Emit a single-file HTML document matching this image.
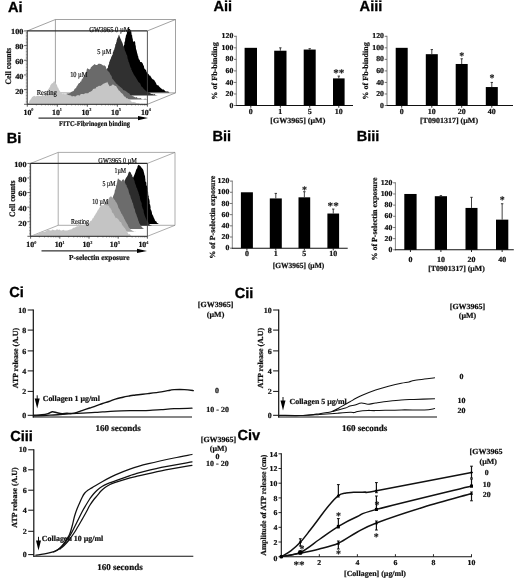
<!DOCTYPE html>
<html lang="en"><head><meta charset="utf-8"><title>Figure</title>
<style>
html,body{margin:0;padding:0;background:#fff;}
body{width:520px;height:585px;overflow:hidden;}
svg{display:block;}
text{white-space:pre;text-rendering:geometricPrecision;font-family:"Liberation Serif","DejaVu Serif",serif;font-weight:bold;text-anchor:middle;fill:#111;stroke:#111;stroke-width:0.22px;}
text.n{font-weight:normal;stroke-width:0.2px;}
text.st{stroke-width:0.15px;}
text.s{text-anchor:start;}
text.e{text-anchor:end;}
text.pl{font-family:"Liberation Sans","DejaVu Sans",sans-serif;font-size:14.6px;fill:#000;stroke:#000;stroke-width:0.3px;}
</style></head><body>
<svg width="520" height="585" viewBox="0 0 520 585">
<rect width="520" height="585" fill="#fff"/>
<text class="pl s" x="8.00" y="11.80">Ai</text>
<text class="pl s" x="213.50" y="11.20">Aii</text>
<text class="pl s" x="359.60" y="11.20">Aiii</text>
<text class="pl s" x="6.70" y="143.30">Bi</text>
<text class="pl s" x="212.50" y="140.60">Bii</text>
<text class="pl s" x="356.70" y="140.60">Biii</text>
<text class="pl s" x="9.20" y="296.80">Ci</text>
<text class="pl s" x="234.70" y="298.20">Cii</text>
<text class="pl s" x="10.20" y="440.60">Ciii</text>
<text class="pl s" x="237.40" y="439.80">Civ</text>
<line x1="236.30" y1="35.80" x2="236.30" y2="106.00" stroke="#777" stroke-width="0.9" stroke-linecap="butt"/>
<line x1="235.80" y1="105.50" x2="353.00" y2="105.50" stroke="#111" stroke-width="1.1" stroke-linecap="butt"/>
<line x1="234.00" y1="105.50" x2="236.30" y2="105.50" stroke="#555" stroke-width="0.8" stroke-linecap="butt"/>
<text class="e" x="233.30" y="107.60" style="font-size:7.57px" textLength="3.90" lengthAdjust="spacingAndGlyphs">0</text>
<line x1="234.00" y1="93.97" x2="236.30" y2="93.97" stroke="#555" stroke-width="0.8" stroke-linecap="butt"/>
<text class="e" x="233.30" y="96.07" style="font-size:7.57px" textLength="7.80" lengthAdjust="spacingAndGlyphs">20</text>
<line x1="234.00" y1="82.43" x2="236.30" y2="82.43" stroke="#555" stroke-width="0.8" stroke-linecap="butt"/>
<text class="e" x="233.30" y="84.53" style="font-size:7.57px" textLength="7.80" lengthAdjust="spacingAndGlyphs">40</text>
<line x1="234.00" y1="70.90" x2="236.30" y2="70.90" stroke="#555" stroke-width="0.8" stroke-linecap="butt"/>
<text class="e" x="233.30" y="73.00" style="font-size:7.57px" textLength="7.80" lengthAdjust="spacingAndGlyphs">60</text>
<line x1="234.00" y1="59.37" x2="236.30" y2="59.37" stroke="#555" stroke-width="0.8" stroke-linecap="butt"/>
<text class="e" x="233.30" y="61.47" style="font-size:7.57px" textLength="7.80" lengthAdjust="spacingAndGlyphs">80</text>
<line x1="234.00" y1="47.83" x2="236.30" y2="47.83" stroke="#555" stroke-width="0.8" stroke-linecap="butt"/>
<text class="e" x="233.30" y="49.93" style="font-size:7.57px" textLength="11.70" lengthAdjust="spacingAndGlyphs">100</text>
<line x1="234.00" y1="36.30" x2="236.30" y2="36.30" stroke="#555" stroke-width="0.8" stroke-linecap="butt"/>
<text class="e" x="233.30" y="38.40" style="font-size:7.57px" textLength="11.70" lengthAdjust="spacingAndGlyphs">120</text>
<rect x="244.60" y="47.83" width="12.40" height="57.67" fill="#000"/>
<line x1="250.80" y1="105.50" x2="250.80" y2="107.70" stroke="#111" stroke-width="0.9" stroke-linecap="butt"/>
<text x="250.80" y="114.10" style="font-size:7.76px" textLength="4.00" lengthAdjust="spacingAndGlyphs">0</text>
<rect x="274.20" y="50.72" width="12.30" height="54.78" fill="#000"/>
<line x1="280.35" y1="47.83" x2="280.35" y2="50.72" stroke="#111" stroke-width="0.8" stroke-linecap="butt"/>
<line x1="279.15" y1="47.83" x2="281.55" y2="47.83" stroke="#111" stroke-width="0.8" stroke-linecap="butt"/>
<line x1="280.35" y1="105.50" x2="280.35" y2="107.70" stroke="#111" stroke-width="0.9" stroke-linecap="butt"/>
<text x="280.35" y="114.10" style="font-size:7.76px" textLength="4.00" lengthAdjust="spacingAndGlyphs">1</text>
<rect x="303.70" y="49.56" width="12.00" height="55.94" fill="#000"/>
<line x1="309.70" y1="48.70" x2="309.70" y2="49.56" stroke="#111" stroke-width="0.8" stroke-linecap="butt"/>
<line x1="308.50" y1="48.70" x2="310.90" y2="48.70" stroke="#111" stroke-width="0.8" stroke-linecap="butt"/>
<line x1="309.70" y1="105.50" x2="309.70" y2="107.70" stroke="#111" stroke-width="0.9" stroke-linecap="butt"/>
<text x="309.70" y="114.10" style="font-size:7.76px" textLength="4.00" lengthAdjust="spacingAndGlyphs">5</text>
<rect x="333.00" y="78.40" width="11.60" height="27.10" fill="#000"/>
<line x1="338.80" y1="76.09" x2="338.80" y2="78.40" stroke="#111" stroke-width="0.8" stroke-linecap="butt"/>
<line x1="337.60" y1="76.09" x2="340.00" y2="76.09" stroke="#111" stroke-width="0.8" stroke-linecap="butt"/>
<line x1="338.80" y1="105.50" x2="338.80" y2="107.70" stroke="#111" stroke-width="0.9" stroke-linecap="butt"/>
<text x="338.80" y="114.10" style="font-size:7.76px" textLength="8.00" lengthAdjust="spacingAndGlyphs">10</text>
<text x="297.80" y="122.90" style="font-size:7.76px" textLength="55.04" lengthAdjust="spacingAndGlyphs">[GW3965] (µM)</text>
<text x="217.00" y="70.90" style="font-size:7.76px" textLength="57.50" lengthAdjust="spacingAndGlyphs" transform="rotate(-90 217.00 70.90)">% of Fb-binding</text>
<text class="st" x="338.80" y="75.80" style="font-size:10.00px" textLength="11.20" lengthAdjust="spacingAndGlyphs">**</text>
<line x1="387.00" y1="35.80" x2="387.00" y2="106.00" stroke="#777" stroke-width="0.9" stroke-linecap="butt"/>
<line x1="386.50" y1="105.50" x2="513.00" y2="105.50" stroke="#111" stroke-width="1.1" stroke-linecap="butt"/>
<line x1="384.70" y1="105.50" x2="387.00" y2="105.50" stroke="#555" stroke-width="0.8" stroke-linecap="butt"/>
<text class="e" x="384.00" y="107.60" style="font-size:7.57px" textLength="3.90" lengthAdjust="spacingAndGlyphs">0</text>
<line x1="384.70" y1="93.97" x2="387.00" y2="93.97" stroke="#555" stroke-width="0.8" stroke-linecap="butt"/>
<text class="e" x="384.00" y="96.07" style="font-size:7.57px" textLength="7.80" lengthAdjust="spacingAndGlyphs">20</text>
<line x1="384.70" y1="82.43" x2="387.00" y2="82.43" stroke="#555" stroke-width="0.8" stroke-linecap="butt"/>
<text class="e" x="384.00" y="84.53" style="font-size:7.57px" textLength="7.80" lengthAdjust="spacingAndGlyphs">40</text>
<line x1="384.70" y1="70.90" x2="387.00" y2="70.90" stroke="#555" stroke-width="0.8" stroke-linecap="butt"/>
<text class="e" x="384.00" y="73.00" style="font-size:7.57px" textLength="7.80" lengthAdjust="spacingAndGlyphs">60</text>
<line x1="384.70" y1="59.37" x2="387.00" y2="59.37" stroke="#555" stroke-width="0.8" stroke-linecap="butt"/>
<text class="e" x="384.00" y="61.47" style="font-size:7.57px" textLength="7.80" lengthAdjust="spacingAndGlyphs">80</text>
<line x1="384.70" y1="47.83" x2="387.00" y2="47.83" stroke="#555" stroke-width="0.8" stroke-linecap="butt"/>
<text class="e" x="384.00" y="49.93" style="font-size:7.57px" textLength="11.70" lengthAdjust="spacingAndGlyphs">100</text>
<line x1="384.70" y1="36.30" x2="387.00" y2="36.30" stroke="#555" stroke-width="0.8" stroke-linecap="butt"/>
<text class="e" x="384.00" y="38.40" style="font-size:7.57px" textLength="11.70" lengthAdjust="spacingAndGlyphs">120</text>
<rect x="395.70" y="47.83" width="12.00" height="57.67" fill="#000"/>
<line x1="401.70" y1="105.50" x2="401.70" y2="107.70" stroke="#111" stroke-width="0.9" stroke-linecap="butt"/>
<text x="401.70" y="114.10" style="font-size:7.76px" textLength="4.00" lengthAdjust="spacingAndGlyphs">0</text>
<rect x="425.80" y="54.18" width="12.00" height="51.32" fill="#000"/>
<line x1="431.80" y1="49.56" x2="431.80" y2="54.18" stroke="#111" stroke-width="0.8" stroke-linecap="butt"/>
<line x1="430.60" y1="49.56" x2="433.00" y2="49.56" stroke="#111" stroke-width="0.8" stroke-linecap="butt"/>
<line x1="431.80" y1="105.50" x2="431.80" y2="107.70" stroke="#111" stroke-width="0.9" stroke-linecap="butt"/>
<text x="431.80" y="114.10" style="font-size:7.76px" textLength="8.00" lengthAdjust="spacingAndGlyphs">10</text>
<rect x="455.70" y="63.98" width="12.00" height="41.52" fill="#000"/>
<line x1="461.70" y1="58.79" x2="461.70" y2="63.98" stroke="#111" stroke-width="0.8" stroke-linecap="butt"/>
<line x1="460.50" y1="58.79" x2="462.90" y2="58.79" stroke="#111" stroke-width="0.8" stroke-linecap="butt"/>
<line x1="461.70" y1="105.50" x2="461.70" y2="107.70" stroke="#111" stroke-width="0.9" stroke-linecap="butt"/>
<text x="461.70" y="114.10" style="font-size:7.76px" textLength="8.00" lengthAdjust="spacingAndGlyphs">20</text>
<rect x="485.80" y="87.05" width="12.00" height="18.45" fill="#000"/>
<line x1="491.80" y1="82.43" x2="491.80" y2="87.05" stroke="#111" stroke-width="0.8" stroke-linecap="butt"/>
<line x1="490.60" y1="82.43" x2="493.00" y2="82.43" stroke="#111" stroke-width="0.8" stroke-linecap="butt"/>
<line x1="491.80" y1="105.50" x2="491.80" y2="107.70" stroke="#111" stroke-width="0.9" stroke-linecap="butt"/>
<text x="491.80" y="114.10" style="font-size:7.76px" textLength="8.00" lengthAdjust="spacingAndGlyphs">40</text>
<text x="449.00" y="122.90" style="font-size:7.76px" textLength="58.15" lengthAdjust="spacingAndGlyphs">[T0901317] (µM)</text>
<text x="368.30" y="70.90" style="font-size:7.76px" textLength="57.50" lengthAdjust="spacingAndGlyphs" transform="rotate(-90 368.30 70.90)">% of Fb-binding</text>
<text class="st" x="461.70" y="59.30" style="font-size:10.00px">*</text>
<text class="st" x="492.00" y="80.90" style="font-size:10.00px">*</text>
<line x1="232.30" y1="180.60" x2="232.30" y2="248.70" stroke="#777" stroke-width="0.9" stroke-linecap="butt"/>
<line x1="231.80" y1="248.20" x2="347.70" y2="248.20" stroke="#111" stroke-width="1.1" stroke-linecap="butt"/>
<line x1="230.00" y1="248.20" x2="232.30" y2="248.20" stroke="#555" stroke-width="0.8" stroke-linecap="butt"/>
<text class="e" x="229.30" y="250.30" style="font-size:7.57px" textLength="3.90" lengthAdjust="spacingAndGlyphs">0</text>
<line x1="230.00" y1="237.02" x2="232.30" y2="237.02" stroke="#555" stroke-width="0.8" stroke-linecap="butt"/>
<text class="e" x="229.30" y="239.12" style="font-size:7.57px" textLength="7.80" lengthAdjust="spacingAndGlyphs">20</text>
<line x1="230.00" y1="225.83" x2="232.30" y2="225.83" stroke="#555" stroke-width="0.8" stroke-linecap="butt"/>
<text class="e" x="229.30" y="227.93" style="font-size:7.57px" textLength="7.80" lengthAdjust="spacingAndGlyphs">40</text>
<line x1="230.00" y1="214.65" x2="232.30" y2="214.65" stroke="#555" stroke-width="0.8" stroke-linecap="butt"/>
<text class="e" x="229.30" y="216.75" style="font-size:7.57px" textLength="7.80" lengthAdjust="spacingAndGlyphs">60</text>
<line x1="230.00" y1="203.47" x2="232.30" y2="203.47" stroke="#555" stroke-width="0.8" stroke-linecap="butt"/>
<text class="e" x="229.30" y="205.57" style="font-size:7.57px" textLength="7.80" lengthAdjust="spacingAndGlyphs">80</text>
<line x1="230.00" y1="192.28" x2="232.30" y2="192.28" stroke="#555" stroke-width="0.8" stroke-linecap="butt"/>
<text class="e" x="229.30" y="194.38" style="font-size:7.57px" textLength="11.70" lengthAdjust="spacingAndGlyphs">100</text>
<line x1="230.00" y1="181.10" x2="232.30" y2="181.10" stroke="#555" stroke-width="0.8" stroke-linecap="butt"/>
<text class="e" x="229.30" y="183.20" style="font-size:7.57px" textLength="11.70" lengthAdjust="spacingAndGlyphs">120</text>
<rect x="240.90" y="192.28" width="12.00" height="55.92" fill="#000"/>
<line x1="246.90" y1="248.20" x2="246.90" y2="250.40" stroke="#111" stroke-width="0.9" stroke-linecap="butt"/>
<text x="246.90" y="256.00" style="font-size:7.76px" textLength="4.00" lengthAdjust="spacingAndGlyphs">0</text>
<rect x="269.80" y="198.43" width="12.00" height="49.77" fill="#000"/>
<line x1="275.80" y1="193.40" x2="275.80" y2="198.43" stroke="#111" stroke-width="0.8" stroke-linecap="butt"/>
<line x1="274.60" y1="193.40" x2="277.00" y2="193.40" stroke="#111" stroke-width="0.8" stroke-linecap="butt"/>
<line x1="275.80" y1="248.20" x2="275.80" y2="250.40" stroke="#111" stroke-width="0.9" stroke-linecap="butt"/>
<text x="275.80" y="256.00" style="font-size:7.76px" textLength="4.00" lengthAdjust="spacingAndGlyphs">1</text>
<rect x="298.50" y="197.32" width="11.70" height="50.88" fill="#000"/>
<line x1="304.35" y1="191.72" x2="304.35" y2="197.32" stroke="#111" stroke-width="0.8" stroke-linecap="butt"/>
<line x1="303.15" y1="191.72" x2="305.55" y2="191.72" stroke="#111" stroke-width="0.8" stroke-linecap="butt"/>
<line x1="304.35" y1="248.20" x2="304.35" y2="250.40" stroke="#111" stroke-width="0.9" stroke-linecap="butt"/>
<text x="304.35" y="256.00" style="font-size:7.76px" textLength="4.00" lengthAdjust="spacingAndGlyphs">5</text>
<rect x="327.40" y="213.53" width="11.70" height="34.67" fill="#000"/>
<line x1="333.25" y1="209.06" x2="333.25" y2="213.53" stroke="#111" stroke-width="0.8" stroke-linecap="butt"/>
<line x1="332.05" y1="209.06" x2="334.45" y2="209.06" stroke="#111" stroke-width="0.8" stroke-linecap="butt"/>
<line x1="333.25" y1="248.20" x2="333.25" y2="250.40" stroke="#111" stroke-width="0.9" stroke-linecap="butt"/>
<text x="333.25" y="256.00" style="font-size:7.76px" textLength="8.00" lengthAdjust="spacingAndGlyphs">10</text>
<text x="298.50" y="268.00" style="font-size:7.76px" textLength="51.50" lengthAdjust="spacingAndGlyphs">[GW3965] (µM)</text>
<text x="215.00" y="217.25" style="font-size:7.76px" textLength="83.00" lengthAdjust="spacingAndGlyphs" transform="rotate(-90 215.00 217.25)">% of P-selectin exposure</text>
<text class="st" x="304.60" y="192.60" style="font-size:10.00px">*</text>
<text class="st" x="333.20" y="208.80" style="font-size:10.00px" textLength="11.20" lengthAdjust="spacingAndGlyphs">**</text>
<line x1="395.40" y1="182.30" x2="395.40" y2="250.30" stroke="#777" stroke-width="0.9" stroke-linecap="butt"/>
<line x1="394.90" y1="249.80" x2="513.80" y2="249.80" stroke="#111" stroke-width="1.1" stroke-linecap="butt"/>
<line x1="393.10" y1="249.80" x2="395.40" y2="249.80" stroke="#555" stroke-width="0.8" stroke-linecap="butt"/>
<text class="e" x="392.40" y="251.90" style="font-size:7.57px" textLength="3.90" lengthAdjust="spacingAndGlyphs">0</text>
<line x1="393.10" y1="238.63" x2="395.40" y2="238.63" stroke="#555" stroke-width="0.8" stroke-linecap="butt"/>
<text class="e" x="392.40" y="240.73" style="font-size:7.57px" textLength="7.80" lengthAdjust="spacingAndGlyphs">20</text>
<line x1="393.10" y1="227.47" x2="395.40" y2="227.47" stroke="#555" stroke-width="0.8" stroke-linecap="butt"/>
<text class="e" x="392.40" y="229.57" style="font-size:7.57px" textLength="7.80" lengthAdjust="spacingAndGlyphs">40</text>
<line x1="393.10" y1="216.30" x2="395.40" y2="216.30" stroke="#555" stroke-width="0.8" stroke-linecap="butt"/>
<text class="e" x="392.40" y="218.40" style="font-size:7.57px" textLength="7.80" lengthAdjust="spacingAndGlyphs">60</text>
<line x1="393.10" y1="205.13" x2="395.40" y2="205.13" stroke="#555" stroke-width="0.8" stroke-linecap="butt"/>
<text class="e" x="392.40" y="207.23" style="font-size:7.57px" textLength="7.80" lengthAdjust="spacingAndGlyphs">80</text>
<line x1="393.10" y1="193.97" x2="395.40" y2="193.97" stroke="#555" stroke-width="0.8" stroke-linecap="butt"/>
<text class="e" x="392.40" y="196.07" style="font-size:7.57px" textLength="11.70" lengthAdjust="spacingAndGlyphs">100</text>
<line x1="393.10" y1="182.80" x2="395.40" y2="182.80" stroke="#555" stroke-width="0.8" stroke-linecap="butt"/>
<text class="e" x="392.40" y="184.90" style="font-size:7.57px" textLength="11.70" lengthAdjust="spacingAndGlyphs">120</text>
<rect x="404.30" y="193.97" width="12.30" height="55.83" fill="#000"/>
<line x1="410.45" y1="249.80" x2="410.45" y2="252.00" stroke="#111" stroke-width="0.9" stroke-linecap="butt"/>
<text x="410.45" y="261.70" style="font-size:7.76px" textLength="4.00" lengthAdjust="spacingAndGlyphs">0</text>
<rect x="434.80" y="196.20" width="12.20" height="53.60" fill="#000"/>
<line x1="440.90" y1="195.64" x2="440.90" y2="196.20" stroke="#111" stroke-width="0.8" stroke-linecap="butt"/>
<line x1="439.70" y1="195.64" x2="442.10" y2="195.64" stroke="#111" stroke-width="0.8" stroke-linecap="butt"/>
<line x1="440.90" y1="249.80" x2="440.90" y2="252.00" stroke="#111" stroke-width="0.9" stroke-linecap="butt"/>
<text x="440.90" y="261.70" style="font-size:7.76px" textLength="8.00" lengthAdjust="spacingAndGlyphs">10</text>
<rect x="465.50" y="207.93" width="12.00" height="41.88" fill="#000"/>
<line x1="471.50" y1="197.32" x2="471.50" y2="207.93" stroke="#111" stroke-width="0.8" stroke-linecap="butt"/>
<line x1="470.30" y1="197.32" x2="472.70" y2="197.32" stroke="#111" stroke-width="0.8" stroke-linecap="butt"/>
<line x1="471.50" y1="249.80" x2="471.50" y2="252.00" stroke="#111" stroke-width="0.9" stroke-linecap="butt"/>
<text x="471.50" y="261.70" style="font-size:7.76px" textLength="8.00" lengthAdjust="spacingAndGlyphs">20</text>
<rect x="496.00" y="219.65" width="12.30" height="30.15" fill="#000"/>
<line x1="502.15" y1="203.74" x2="502.15" y2="219.65" stroke="#111" stroke-width="0.8" stroke-linecap="butt"/>
<line x1="500.95" y1="203.74" x2="503.35" y2="203.74" stroke="#111" stroke-width="0.8" stroke-linecap="butt"/>
<line x1="502.15" y1="249.80" x2="502.15" y2="252.00" stroke="#111" stroke-width="0.9" stroke-linecap="butt"/>
<text x="502.15" y="261.70" style="font-size:7.76px" textLength="8.00" lengthAdjust="spacingAndGlyphs">40</text>
<text x="456.50" y="271.00" style="font-size:7.76px" textLength="56.50" lengthAdjust="spacingAndGlyphs">[T0901317] (µM)</text>
<text x="377.00" y="218.90" style="font-size:7.76px" textLength="83.00" lengthAdjust="spacingAndGlyphs" transform="rotate(-90 377.00 218.90)">% of P-selectin exposure</text>
<text class="st" x="502.20" y="202.50" style="font-size:10.00px">*</text>
<line x1="33.30" y1="309.50" x2="33.30" y2="417.50" stroke="#111" stroke-width="1.2" stroke-linecap="butt"/>
<line x1="32.80" y1="417.00" x2="192.00" y2="417.00" stroke="#111" stroke-width="1.1" stroke-linecap="butt"/>
<line x1="27.70" y1="310.00" x2="33.30" y2="310.00" stroke="#111" stroke-width="1.0" stroke-linecap="butt"/>
<text class="e" x="26.30" y="312.60" style="font-size:7.76px" textLength="8.00" lengthAdjust="spacingAndGlyphs">10</text>
<line x1="27.70" y1="330.10" x2="33.30" y2="330.10" stroke="#111" stroke-width="1.0" stroke-linecap="butt"/>
<text class="e" x="26.30" y="332.70" style="font-size:7.76px" textLength="4.00" lengthAdjust="spacingAndGlyphs">8</text>
<line x1="27.70" y1="350.90" x2="33.30" y2="350.90" stroke="#111" stroke-width="1.0" stroke-linecap="butt"/>
<text class="e" x="26.30" y="353.50" style="font-size:7.76px" textLength="4.00" lengthAdjust="spacingAndGlyphs">6</text>
<line x1="27.70" y1="370.90" x2="33.30" y2="370.90" stroke="#111" stroke-width="1.0" stroke-linecap="butt"/>
<text class="e" x="26.30" y="373.50" style="font-size:7.76px" textLength="4.00" lengthAdjust="spacingAndGlyphs">4</text>
<line x1="27.70" y1="391.40" x2="33.30" y2="391.40" stroke="#111" stroke-width="1.0" stroke-linecap="butt"/>
<text class="e" x="26.30" y="394.00" style="font-size:7.76px" textLength="4.00" lengthAdjust="spacingAndGlyphs">2</text>
<line x1="27.70" y1="415.30" x2="33.30" y2="415.30" stroke="#111" stroke-width="1.0" stroke-linecap="butt"/>
<text class="e" x="26.30" y="417.90" style="font-size:7.76px" textLength="4.00" lengthAdjust="spacingAndGlyphs">0</text>
<text x="17.80" y="358.00" style="font-size:7.76px" textLength="60.30" lengthAdjust="spacingAndGlyphs" transform="rotate(-90 17.80 358.00)">ATP release (A.U)</text>
<line x1="37.20" y1="395.30" x2="37.20" y2="402.60" stroke="#111" stroke-width="1.0" stroke-linecap="butt"/>
<path d="M34.7 398.6 L39.7 398.6 L37.2 408.6 Z" fill="#000" stroke="none" stroke-width="1" stroke-linejoin="round" stroke-linecap="round"/>
<text class="s" x="42.70" y="400.50" style="font-size:7.76px" textLength="57.20" lengthAdjust="spacingAndGlyphs">Collagen 1 µg/ml</text>
<text x="118.10" y="430.60" style="font-size:8.92px" textLength="45.40" lengthAdjust="spacingAndGlyphs">160 seconds</text>
<path d="M34.0 415.2 C35.3 415.1 39.7 415.1 42.0 414.8 C44.3 414.5 46.2 414.1 48.0 413.6 C49.8 413.1 51.0 411.8 52.5 411.7 C54.0 411.6 55.4 412.5 57.0 412.8 C58.6 413.1 60.3 413.5 62.0 413.6 C63.7 413.7 65.3 413.3 67.0 413.3 C68.7 413.3 70.3 413.6 72.0 413.4 C73.7 413.2 75.3 412.8 77.0 412.3 C78.7 411.8 79.9 411.3 82.0 410.6 C84.1 409.9 87.4 408.8 89.7 408.0 C92.0 407.2 93.8 406.6 96.0 405.8 C98.2 405.1 100.4 404.2 102.6 403.5 C104.8 402.8 106.9 402.2 109.0 401.5 C111.1 400.8 113.1 399.8 115.4 399.1 C117.7 398.4 120.6 397.8 123.0 397.2 C125.4 396.6 127.9 396.2 130.0 395.8 C132.1 395.4 132.6 395.4 135.6 395.0 C138.6 394.6 143.7 394.1 148.0 393.6 C152.3 393.1 157.6 392.5 161.3 391.9 C165.0 391.3 167.9 390.6 170.0 390.2 C172.1 389.8 171.7 389.7 174.1 389.6 C176.5 389.5 181.2 389.4 184.4 389.6 C187.6 389.8 191.8 390.4 193.3 390.6" fill="none" stroke="#111" stroke-width="1.4" stroke-linecap="round" stroke-linejoin="round"/>
<path d="M34.0 415.8 C36.7 415.7 45.7 415.4 50.0 415.2 C54.3 415.0 55.5 414.9 60.0 414.6 C64.5 414.3 71.2 413.7 77.0 413.3 C82.8 412.9 90.7 412.6 95.0 412.4 C99.3 412.2 99.3 412.1 102.6 411.9 C105.9 411.7 110.4 411.4 115.0 411.2 C119.6 411.0 126.6 410.8 130.0 410.7 C133.4 410.6 132.3 410.8 135.6 410.7 C138.9 410.6 145.7 410.5 150.0 410.3 C154.3 410.1 157.3 410.0 161.3 409.7 C165.3 409.4 168.9 408.9 174.0 408.7 C179.1 408.4 189.0 408.3 192.0 408.2" fill="none" stroke="#111" stroke-width="1.3" stroke-linecap="round" stroke-linejoin="round"/>
<text x="215.60" y="306.80" style="font-size:7.76px" textLength="35.55" lengthAdjust="spacingAndGlyphs">[GW3965]</text>
<text x="215.60" y="317.20" style="font-size:7.76px" textLength="17.49" lengthAdjust="spacingAndGlyphs">(µM)</text>
<text x="217.00" y="393.30" style="font-size:7.76px" textLength="4.00" lengthAdjust="spacingAndGlyphs">0</text>
<text x="217.70" y="412.20" style="font-size:7.76px" textLength="22.66" lengthAdjust="spacingAndGlyphs">10 - 20</text>
<line x1="278.70" y1="309.50" x2="278.70" y2="417.50" stroke="#111" stroke-width="1.2" stroke-linecap="butt"/>
<line x1="278.20" y1="417.00" x2="437.00" y2="417.00" stroke="#111" stroke-width="1.1" stroke-linecap="butt"/>
<line x1="273.10" y1="310.00" x2="278.70" y2="310.00" stroke="#111" stroke-width="1.0" stroke-linecap="butt"/>
<text class="e" x="271.70" y="312.60" style="font-size:7.76px" textLength="8.00" lengthAdjust="spacingAndGlyphs">10</text>
<line x1="273.10" y1="330.10" x2="278.70" y2="330.10" stroke="#111" stroke-width="1.0" stroke-linecap="butt"/>
<text class="e" x="271.70" y="332.70" style="font-size:7.76px" textLength="4.00" lengthAdjust="spacingAndGlyphs">8</text>
<line x1="273.10" y1="350.90" x2="278.70" y2="350.90" stroke="#111" stroke-width="1.0" stroke-linecap="butt"/>
<text class="e" x="271.70" y="353.50" style="font-size:7.76px" textLength="4.00" lengthAdjust="spacingAndGlyphs">6</text>
<line x1="273.10" y1="370.90" x2="278.70" y2="370.90" stroke="#111" stroke-width="1.0" stroke-linecap="butt"/>
<text class="e" x="271.70" y="373.50" style="font-size:7.76px" textLength="4.00" lengthAdjust="spacingAndGlyphs">4</text>
<line x1="273.10" y1="391.40" x2="278.70" y2="391.40" stroke="#111" stroke-width="1.0" stroke-linecap="butt"/>
<text class="e" x="271.70" y="394.00" style="font-size:7.76px" textLength="4.00" lengthAdjust="spacingAndGlyphs">2</text>
<line x1="273.10" y1="415.30" x2="278.70" y2="415.30" stroke="#111" stroke-width="1.0" stroke-linecap="butt"/>
<text class="e" x="271.70" y="417.90" style="font-size:7.76px" textLength="4.00" lengthAdjust="spacingAndGlyphs">0</text>
<text x="262.70" y="358.00" style="font-size:7.76px" textLength="60.30" lengthAdjust="spacingAndGlyphs" transform="rotate(-90 262.70 358.00)">ATP release (A.U)</text>
<line x1="283.00" y1="397.00" x2="283.00" y2="404.60" stroke="#111" stroke-width="1.0" stroke-linecap="butt"/>
<path d="M280.5 400.6 L285.5 400.6 L283.0 410.6 Z" fill="#000" stroke="none" stroke-width="1" stroke-linejoin="round" stroke-linecap="round"/>
<text class="s" x="289.50" y="403.60" style="font-size:7.76px" textLength="57.20" lengthAdjust="spacingAndGlyphs">Collagen 5 µg/ml</text>
<text x="364.60" y="430.60" style="font-size:8.92px" textLength="45.40" lengthAdjust="spacingAndGlyphs">160 seconds</text>
<path d="M279.5 415.2 C282.1 415.2 290.4 415.4 295.0 415.4 C299.6 415.4 302.9 415.5 307.0 415.2 C311.1 414.9 316.4 414.1 319.7 413.7 C323.0 413.3 324.9 413.0 327.0 412.6 C329.1 412.2 330.6 412.0 332.6 411.2 C334.6 410.4 336.9 409.2 339.0 408.0 C341.1 406.8 343.6 405.2 345.4 404.2 C347.2 403.2 348.2 402.8 350.0 401.8 C351.8 400.8 353.9 399.4 356.0 398.3 C358.1 397.2 359.5 396.4 362.8 395.0 C366.1 393.6 371.3 391.5 375.6 390.0 C379.9 388.5 384.2 387.3 388.5 386.2 C392.8 385.1 397.9 383.9 401.3 383.2 C404.7 382.5 406.9 382.4 409.0 381.9 C411.1 381.4 411.4 380.9 414.0 380.4 C416.6 379.9 421.0 379.5 424.4 379.1 C427.8 378.7 432.9 378.0 434.6 377.8" fill="none" stroke="#111" stroke-width="1.05" stroke-linecap="round" stroke-linejoin="round"/>
<path d="M332.6 411.4 C333.3 411.2 334.9 410.9 337.0 410.3 C339.1 409.7 343.2 408.7 345.4 408.0 C347.6 407.3 348.4 406.5 350.0 406.0 C351.6 405.5 353.1 405.5 355.0 405.0 C356.9 404.5 359.3 403.1 361.5 403.0 C363.7 402.9 365.6 404.2 368.0 404.2 C370.4 404.2 372.2 403.5 375.6 403.0 C379.0 402.5 384.2 401.7 388.5 401.2 C392.8 400.7 397.1 400.2 401.3 399.9 C405.6 399.6 408.4 399.6 414.0 399.4 C419.6 399.2 431.2 398.9 434.6 398.8" fill="none" stroke="#111" stroke-width="1.05" stroke-linecap="round" stroke-linejoin="round"/>
<path d="M279.5 415.4 C282.9 415.4 293.3 415.8 300.0 415.6 C306.7 415.5 313.4 414.9 319.7 414.5 C326.0 414.1 332.6 413.6 337.7 413.2 C342.8 412.8 347.8 412.4 350.5 412.3 C353.2 412.2 352.8 412.8 354.0 412.6 C355.2 412.5 355.4 411.8 357.7 411.4 C360.0 411.0 365.0 410.5 368.0 410.4 C371.0 410.3 370.1 410.7 375.6 410.6 C381.2 410.5 393.2 410.0 401.3 409.9 C409.4 409.8 418.8 410.1 424.4 409.9 C429.9 409.7 432.9 408.8 434.6 408.6" fill="none" stroke="#111" stroke-width="1.05" stroke-linecap="round" stroke-linejoin="round"/>
<text x="467.50" y="308.70" style="font-size:7.76px" textLength="35.55" lengthAdjust="spacingAndGlyphs">[GW3965]</text>
<text x="467.50" y="317.60" style="font-size:7.76px" textLength="17.49" lengthAdjust="spacingAndGlyphs">(µM)</text>
<text x="461.50" y="379.20" style="font-size:7.76px" textLength="4.00" lengthAdjust="spacingAndGlyphs">0</text>
<text x="461.50" y="403.10" style="font-size:7.76px" textLength="8.00" lengthAdjust="spacingAndGlyphs">10</text>
<text x="461.50" y="412.70" style="font-size:7.76px" textLength="8.00" lengthAdjust="spacingAndGlyphs">20</text>
<line x1="33.80" y1="449.30" x2="33.80" y2="556.70" stroke="#111" stroke-width="1.2" stroke-linecap="butt"/>
<line x1="33.30" y1="556.20" x2="193.30" y2="556.20" stroke="#111" stroke-width="1.1" stroke-linecap="butt"/>
<line x1="28.20" y1="449.80" x2="33.80" y2="449.80" stroke="#111" stroke-width="1.0" stroke-linecap="butt"/>
<text class="e" x="26.80" y="452.40" style="font-size:7.76px" textLength="8.00" lengthAdjust="spacingAndGlyphs">10</text>
<line x1="28.20" y1="469.80" x2="33.80" y2="469.80" stroke="#111" stroke-width="1.0" stroke-linecap="butt"/>
<text class="e" x="26.80" y="472.40" style="font-size:7.76px" textLength="4.00" lengthAdjust="spacingAndGlyphs">8</text>
<line x1="28.20" y1="490.20" x2="33.80" y2="490.20" stroke="#111" stroke-width="1.0" stroke-linecap="butt"/>
<text class="e" x="26.80" y="492.80" style="font-size:7.76px" textLength="4.00" lengthAdjust="spacingAndGlyphs">6</text>
<line x1="28.20" y1="510.20" x2="33.80" y2="510.20" stroke="#111" stroke-width="1.0" stroke-linecap="butt"/>
<text class="e" x="26.80" y="512.80" style="font-size:7.76px" textLength="4.00" lengthAdjust="spacingAndGlyphs">4</text>
<line x1="28.20" y1="531.30" x2="33.80" y2="531.30" stroke="#111" stroke-width="1.0" stroke-linecap="butt"/>
<text class="e" x="26.80" y="533.90" style="font-size:7.76px" textLength="4.00" lengthAdjust="spacingAndGlyphs">2</text>
<line x1="28.20" y1="554.60" x2="33.80" y2="554.60" stroke="#111" stroke-width="1.0" stroke-linecap="butt"/>
<text class="e" x="26.80" y="557.20" style="font-size:7.76px" textLength="4.00" lengthAdjust="spacingAndGlyphs">0</text>
<text x="17.20" y="497.50" style="font-size:7.76px" textLength="60.30" lengthAdjust="spacingAndGlyphs" transform="rotate(-90 17.20 497.50)">ATP release (A.U)</text>
<line x1="38.50" y1="536.80" x2="38.50" y2="544.40" stroke="#111" stroke-width="1.0" stroke-linecap="butt"/>
<path d="M36.0 540.4 L41.0 540.4 L38.5 550.4 Z" fill="#000" stroke="none" stroke-width="1" stroke-linejoin="round" stroke-linecap="round"/>
<text class="s" x="41.80" y="540.60" style="font-size:7.76px" textLength="61.50" lengthAdjust="spacingAndGlyphs">Collagen 10 µg/ml</text>
<text x="120.00" y="569.80" style="font-size:8.92px" textLength="45.40" lengthAdjust="spacingAndGlyphs">160 seconds</text>
<path d="M35.9 555.2 C36.6 555.1 38.1 554.9 40.0 554.6 C41.9 554.3 44.7 553.9 47.0 553.4 C49.3 552.9 52.0 552.3 53.8 551.7 C55.6 551.1 56.7 550.5 58.0 549.6 C59.3 548.7 60.2 547.9 61.5 546.5 C62.8 545.1 64.2 543.0 65.5 541.0 C66.8 539.0 68.4 537.1 69.5 534.5 C70.6 531.9 71.5 528.6 72.3 525.5 C73.1 522.4 73.8 518.8 74.6 516.0 C75.4 513.2 76.3 510.7 77.2 508.5 C78.1 506.3 78.9 504.6 79.7 502.7 C80.5 500.8 81.4 498.8 82.2 497.2 C83.0 495.6 83.8 494.2 84.8 493.0 C85.8 491.8 87.0 490.9 88.2 490.0 C89.5 489.1 89.9 489.0 92.3 487.6 C94.7 486.2 98.8 483.6 102.6 481.5 C106.4 479.4 110.8 477.0 115.4 474.9 C120.1 472.8 125.0 470.7 130.5 468.8 C136.0 466.9 141.2 465.5 148.5 463.7 C155.8 461.9 166.8 459.5 174.0 458.0 C181.2 456.5 189.0 455.1 192.0 454.5" fill="none" stroke="#111" stroke-width="1.25" stroke-linecap="round" stroke-linejoin="round"/>
<path d="M53.8 552.0 C54.7 551.5 57.3 550.3 59.0 549.0 C60.7 547.7 62.6 545.8 64.1 544.0 C65.6 542.2 66.7 540.4 68.0 538.5 C69.3 536.6 70.3 535.1 71.8 532.4 C73.3 529.7 75.2 525.6 76.9 522.2 C78.6 518.8 80.5 514.9 82.0 512.0 C83.5 509.1 84.7 507.2 86.0 505.0 C87.3 502.8 88.5 500.8 89.7 499.0 C91.0 497.2 92.2 495.5 93.5 494.0 C94.8 492.5 96.0 491.2 97.4 490.0 C98.8 488.8 100.3 487.6 102.0 486.5 C103.7 485.4 105.0 484.8 107.7 483.7 C110.4 482.6 114.3 481.2 118.0 479.9 C121.7 478.6 127.1 476.7 130.0 475.7 C132.9 474.7 130.4 475.2 135.6 473.8 C140.8 472.4 151.9 469.4 161.3 467.4 C170.7 465.4 186.9 462.8 192.0 461.9" fill="none" stroke="#111" stroke-width="1.25" stroke-linecap="round" stroke-linejoin="round"/>
<path d="M60.0 549.0 C60.7 548.4 62.6 547.0 64.1 545.5 C65.6 544.0 67.3 542.2 69.0 540.0 C70.7 537.8 72.9 534.8 74.4 532.5 C75.9 530.2 76.7 528.6 78.0 526.5 C79.3 524.4 80.7 521.9 82.0 519.6 C83.3 517.3 84.7 514.9 86.0 512.5 C87.3 510.1 88.5 507.6 89.7 505.5 C91.0 503.4 92.2 501.7 93.5 500.0 C94.8 498.3 96.2 496.8 97.4 495.3 C98.7 493.8 99.7 492.3 101.0 491.0 C102.3 489.7 103.5 488.7 105.0 487.6 C106.5 486.5 108.3 485.4 110.0 484.5 C111.7 483.6 112.1 483.5 115.4 482.4 C118.7 481.3 126.6 478.8 130.0 477.8 C133.4 476.8 130.4 477.8 135.6 476.6 C140.8 475.4 151.9 472.7 161.3 470.8 C170.7 468.9 186.9 466.2 192.0 465.3" fill="none" stroke="#111" stroke-width="1.25" stroke-linecap="round" stroke-linejoin="round"/>
<text x="218.50" y="442.10" style="font-size:7.76px" textLength="35.55" lengthAdjust="spacingAndGlyphs">[GW3965]</text>
<text x="218.50" y="451.00" style="font-size:7.76px" textLength="17.49" lengthAdjust="spacingAndGlyphs">(µM)</text>
<text x="217.60" y="458.50" style="font-size:7.76px" textLength="4.00" lengthAdjust="spacingAndGlyphs">0</text>
<text x="217.40" y="466.40" style="font-size:7.76px" textLength="22.66" lengthAdjust="spacingAndGlyphs">10 - 20</text>
<line x1="281.30" y1="453.30" x2="281.30" y2="557.20" stroke="#111" stroke-width="1.1" stroke-linecap="butt"/>
<line x1="280.80" y1="556.70" x2="472.00" y2="556.70" stroke="#111" stroke-width="1.1" stroke-linecap="butt"/>
<line x1="278.50" y1="556.70" x2="281.30" y2="556.70" stroke="#111" stroke-width="0.9" stroke-linecap="butt"/>
<text class="e" x="277.30" y="560.80" style="font-size:7.57px" textLength="3.90" lengthAdjust="spacingAndGlyphs">0</text>
<line x1="278.50" y1="542.00" x2="281.30" y2="542.00" stroke="#111" stroke-width="0.9" stroke-linecap="butt"/>
<text class="e" x="277.30" y="544.70" style="font-size:7.57px" textLength="3.90" lengthAdjust="spacingAndGlyphs">2</text>
<line x1="278.50" y1="527.30" x2="281.30" y2="527.30" stroke="#111" stroke-width="0.9" stroke-linecap="butt"/>
<text class="e" x="277.30" y="530.00" style="font-size:7.57px" textLength="3.90" lengthAdjust="spacingAndGlyphs">4</text>
<line x1="278.50" y1="512.60" x2="281.30" y2="512.60" stroke="#111" stroke-width="0.9" stroke-linecap="butt"/>
<text class="e" x="277.30" y="515.30" style="font-size:7.57px" textLength="3.90" lengthAdjust="spacingAndGlyphs">6</text>
<line x1="278.50" y1="497.90" x2="281.30" y2="497.90" stroke="#111" stroke-width="0.9" stroke-linecap="butt"/>
<text class="e" x="277.30" y="500.60" style="font-size:7.57px" textLength="3.90" lengthAdjust="spacingAndGlyphs">8</text>
<line x1="278.50" y1="483.20" x2="281.30" y2="483.20" stroke="#111" stroke-width="0.9" stroke-linecap="butt"/>
<text class="e" x="277.30" y="485.90" style="font-size:7.57px" textLength="7.80" lengthAdjust="spacingAndGlyphs">10</text>
<line x1="278.50" y1="468.50" x2="281.30" y2="468.50" stroke="#111" stroke-width="0.9" stroke-linecap="butt"/>
<text class="e" x="277.30" y="471.20" style="font-size:7.57px" textLength="7.80" lengthAdjust="spacingAndGlyphs">12</text>
<line x1="278.50" y1="453.80" x2="281.30" y2="453.80" stroke="#111" stroke-width="0.9" stroke-linecap="butt"/>
<text class="e" x="277.30" y="456.50" style="font-size:7.57px" textLength="7.80" lengthAdjust="spacingAndGlyphs">14</text>
<line x1="319.34" y1="556.70" x2="319.34" y2="554.20" stroke="#111" stroke-width="0.9" stroke-linecap="butt"/>
<text x="319.34" y="565.30" style="font-size:7.57px" textLength="3.90" lengthAdjust="spacingAndGlyphs">2</text>
<line x1="357.38" y1="556.70" x2="357.38" y2="554.20" stroke="#111" stroke-width="0.9" stroke-linecap="butt"/>
<text x="357.38" y="565.30" style="font-size:7.57px" textLength="3.90" lengthAdjust="spacingAndGlyphs">4</text>
<line x1="395.42" y1="556.70" x2="395.42" y2="554.20" stroke="#111" stroke-width="0.9" stroke-linecap="butt"/>
<text x="395.42" y="565.30" style="font-size:7.57px" textLength="3.90" lengthAdjust="spacingAndGlyphs">6</text>
<line x1="433.46" y1="556.70" x2="433.46" y2="554.20" stroke="#111" stroke-width="0.9" stroke-linecap="butt"/>
<text x="433.46" y="565.30" style="font-size:7.57px" textLength="3.90" lengthAdjust="spacingAndGlyphs">8</text>
<line x1="471.50" y1="556.70" x2="471.50" y2="554.20" stroke="#111" stroke-width="0.9" stroke-linecap="butt"/>
<text x="471.50" y="565.30" style="font-size:7.57px" textLength="7.80" lengthAdjust="spacingAndGlyphs">10</text>
<text x="375.00" y="575.60" style="font-size:7.76px" textLength="62.00" lengthAdjust="spacingAndGlyphs">[Collagen] (µg/ml)</text>
<text x="265.80" y="505.20" style="font-size:7.76px" textLength="101.00" lengthAdjust="spacingAndGlyphs" transform="rotate(-90 265.80 505.20)">Amplitude of ATP release (cm)</text>
<path d="M281.3 556.7 C282.9 555.7 287.6 553.2 290.8 550.8 C294.0 548.4 297.1 545.7 300.3 542.3 C303.5 538.9 306.7 534.5 309.8 530.5 C313.0 526.5 316.2 522.2 319.3 518.0 C322.5 513.8 325.7 509.2 328.9 505.5 C332.0 501.8 335.5 497.7 338.4 495.6 C341.2 493.5 343.4 493.6 346.0 493.0 C348.5 492.4 350.4 492.5 353.6 492.3 C356.7 492.1 361.2 492.3 365.0 492.0 C368.8 491.7 358.6 493.9 376.4 490.7 C394.2 487.4 455.6 475.5 471.5 472.5" fill="none" stroke="#111" stroke-width="1.5" stroke-linecap="round" stroke-linejoin="round"/>
<path d="M281.3 556.7 C284.5 556.0 294.0 555.3 300.3 552.4 C306.7 549.5 313.0 543.8 319.3 539.5 C325.7 535.2 332.0 530.2 338.4 526.4 C344.7 522.6 351.0 519.3 357.4 516.5 C363.7 513.7 357.4 514.5 376.4 509.4 C395.4 504.3 455.6 489.9 471.5 486.0" fill="none" stroke="#111" stroke-width="1.5" stroke-linecap="round" stroke-linejoin="round"/>
<path d="M281.3 556.7 C284.5 556.1 294.0 554.6 300.3 553.3 C306.7 552.0 313.0 550.7 319.3 549.0 C325.7 547.3 332.0 546.0 338.4 543.2 C344.7 540.4 351.0 535.4 357.4 532.0 C363.7 528.6 365.3 527.2 376.4 523.0 C387.5 518.8 408.1 511.9 424.0 507.0 C439.8 502.1 463.6 495.8 471.5 493.5" fill="none" stroke="#111" stroke-width="1.5" stroke-linecap="round" stroke-linejoin="round"/>
<line x1="300.32" y1="538.80" x2="300.32" y2="546.00" stroke="#111" stroke-width="1.2" stroke-linecap="butt"/>
<line x1="298.92" y1="538.80" x2="301.72" y2="538.80" stroke="#111" stroke-width="1.0" stroke-linecap="butt"/>
<line x1="298.92" y1="546.00" x2="301.72" y2="546.00" stroke="#111" stroke-width="1.0" stroke-linecap="butt"/>
<line x1="338.36" y1="484.60" x2="338.36" y2="497.00" stroke="#111" stroke-width="1.2" stroke-linecap="butt"/>
<line x1="336.96" y1="484.60" x2="339.76" y2="484.60" stroke="#111" stroke-width="1.0" stroke-linecap="butt"/>
<line x1="336.96" y1="497.00" x2="339.76" y2="497.00" stroke="#111" stroke-width="1.0" stroke-linecap="butt"/>
<line x1="376.40" y1="482.60" x2="376.40" y2="492.70" stroke="#111" stroke-width="1.2" stroke-linecap="butt"/>
<line x1="375.00" y1="482.60" x2="377.80" y2="482.60" stroke="#111" stroke-width="1.0" stroke-linecap="butt"/>
<line x1="375.00" y1="492.70" x2="377.80" y2="492.70" stroke="#111" stroke-width="1.0" stroke-linecap="butt"/>
<line x1="471.50" y1="466.20" x2="471.50" y2="478.00" stroke="#111" stroke-width="1.2" stroke-linecap="butt"/>
<line x1="470.10" y1="466.20" x2="472.90" y2="466.20" stroke="#111" stroke-width="1.0" stroke-linecap="butt"/>
<line x1="470.10" y1="478.00" x2="472.90" y2="478.00" stroke="#111" stroke-width="1.0" stroke-linecap="butt"/>
<line x1="338.36" y1="518.60" x2="338.36" y2="528.00" stroke="#111" stroke-width="1.2" stroke-linecap="butt"/>
<line x1="336.96" y1="518.60" x2="339.76" y2="518.60" stroke="#111" stroke-width="1.0" stroke-linecap="butt"/>
<line x1="336.96" y1="528.00" x2="339.76" y2="528.00" stroke="#111" stroke-width="1.0" stroke-linecap="butt"/>
<line x1="376.40" y1="496.00" x2="376.40" y2="510.50" stroke="#111" stroke-width="1.2" stroke-linecap="butt"/>
<line x1="375.00" y1="496.00" x2="377.80" y2="496.00" stroke="#111" stroke-width="1.0" stroke-linecap="butt"/>
<line x1="375.00" y1="510.50" x2="377.80" y2="510.50" stroke="#111" stroke-width="1.0" stroke-linecap="butt"/>
<line x1="471.50" y1="479.00" x2="471.50" y2="487.00" stroke="#111" stroke-width="1.2" stroke-linecap="butt"/>
<line x1="470.10" y1="479.00" x2="472.90" y2="479.00" stroke="#111" stroke-width="1.0" stroke-linecap="butt"/>
<line x1="470.10" y1="487.00" x2="472.90" y2="487.00" stroke="#111" stroke-width="1.0" stroke-linecap="butt"/>
<line x1="338.36" y1="541.00" x2="338.36" y2="549.00" stroke="#111" stroke-width="1.2" stroke-linecap="butt"/>
<line x1="336.96" y1="541.00" x2="339.76" y2="541.00" stroke="#111" stroke-width="1.0" stroke-linecap="butt"/>
<line x1="336.96" y1="549.00" x2="339.76" y2="549.00" stroke="#111" stroke-width="1.0" stroke-linecap="butt"/>
<line x1="376.40" y1="521.00" x2="376.40" y2="530.00" stroke="#111" stroke-width="1.2" stroke-linecap="butt"/>
<line x1="375.00" y1="521.00" x2="377.80" y2="521.00" stroke="#111" stroke-width="1.0" stroke-linecap="butt"/>
<line x1="375.00" y1="530.00" x2="377.80" y2="530.00" stroke="#111" stroke-width="1.0" stroke-linecap="butt"/>
<line x1="471.50" y1="492.00" x2="471.50" y2="500.80" stroke="#111" stroke-width="1.2" stroke-linecap="butt"/>
<line x1="470.10" y1="492.00" x2="472.90" y2="492.00" stroke="#111" stroke-width="1.0" stroke-linecap="butt"/>
<line x1="470.10" y1="500.80" x2="472.90" y2="500.80" stroke="#111" stroke-width="1.0" stroke-linecap="butt"/>
<circle cx="281.3" cy="556.7" r="1.9" fill="#000"/>
<path d="M300.3 540.7 L301.9 542.3 L300.3 543.9 L298.7 542.3 Z" fill="#000" stroke="none" stroke-width="1" stroke-linejoin="round" stroke-linecap="round"/>
<path d="M338.4 494.0 L340.0 495.6 L338.4 497.2 L336.8 495.6 Z" fill="#000" stroke="none" stroke-width="1" stroke-linejoin="round" stroke-linecap="round"/>
<path d="M376.4 489.1 L378.0 490.7 L376.4 492.3 L374.8 490.7 Z" fill="#000" stroke="none" stroke-width="1" stroke-linejoin="round" stroke-linecap="round"/>
<path d="M471.5 470.9 L473.1 472.5 L471.5 474.1 L469.9 472.5 Z" fill="#000" stroke="none" stroke-width="1" stroke-linejoin="round" stroke-linecap="round"/>
<circle cx="300.3" cy="552.4" r="2.4" fill="#000"/>
<rect x="336.86" y="524.90" width="3.00" height="3.00" fill="#000"/>
<rect x="374.90" y="507.90" width="3.00" height="3.00" fill="#000"/>
<rect x="470.00" y="484.50" width="3.00" height="3.00" fill="#000"/>
<path d="M300.3 551.5 L301.9 554.5 L298.7 554.5 Z" fill="#000" stroke="none" stroke-width="1" stroke-linejoin="round" stroke-linecap="round"/>
<path d="M338.4 541.4 L340.0 544.4 L336.8 544.4 Z" fill="#000" stroke="none" stroke-width="1" stroke-linejoin="round" stroke-linecap="round"/>
<path d="M376.4 521.2 L378.0 524.2 L374.8 524.2 Z" fill="#000" stroke="none" stroke-width="1" stroke-linejoin="round" stroke-linecap="round"/>
<path d="M471.5 491.7 L473.1 494.7 L469.9 494.7 Z" fill="#000" stroke="none" stroke-width="1" stroke-linejoin="round" stroke-linecap="round"/>
<text class="st" x="299.00" y="568.10" style="font-size:10.00px" textLength="11.20" lengthAdjust="spacingAndGlyphs">**</text>
<text class="st" x="302.00" y="551.60" style="font-size:10.00px">*</text>
<text class="st" x="338.50" y="519.10" style="font-size:10.00px">*</text>
<text class="st" x="338.50" y="557.10" style="font-size:10.00px">*</text>
<text class="st" x="377.00" y="508.10" style="font-size:10.00px">*</text>
<text class="st" x="376.30" y="539.60" style="font-size:10.00px">*</text>
<text class="s" x="469.50" y="453.60" style="font-size:7.76px" textLength="32.89" lengthAdjust="spacingAndGlyphs">[GW3965</text>
<text x="488.30" y="463.70" style="font-size:7.76px" textLength="17.49" lengthAdjust="spacingAndGlyphs">(µM)</text>
<text x="486.80" y="475.20" style="font-size:7.66px" textLength="3.95" lengthAdjust="spacingAndGlyphs">0</text>
<text x="486.80" y="487.30" style="font-size:7.66px" textLength="7.90" lengthAdjust="spacingAndGlyphs">10</text>
<text x="486.80" y="497.40" style="font-size:7.66px" textLength="7.90" lengthAdjust="spacingAndGlyphs">20</text>
<line x1="55.40" y1="19.50" x2="175.50" y2="19.50" stroke="#7a7a7a" stroke-width="0.7" stroke-linecap="butt"/>
<line x1="175.50" y1="19.50" x2="175.50" y2="92.90" stroke="#7a7a7a" stroke-width="0.7" stroke-linecap="butt"/>
<line x1="55.40" y1="19.50" x2="55.40" y2="92.90" stroke="#7a7a7a" stroke-width="0.7" stroke-linecap="butt"/>
<line x1="55.40" y1="92.90" x2="175.50" y2="92.90" stroke="#7a7a7a" stroke-width="0.7" stroke-linecap="butt"/>
<line x1="27.30" y1="30.90" x2="55.40" y2="19.50" stroke="#7a7a7a" stroke-width="0.7" stroke-linecap="butt"/>
<line x1="147.40" y1="30.90" x2="175.50" y2="19.50" stroke="#7a7a7a" stroke-width="0.7" stroke-linecap="butt"/>
<line x1="147.40" y1="104.30" x2="175.50" y2="92.90" stroke="#7a7a7a" stroke-width="0.7" stroke-linecap="butt"/>
<line x1="27.30" y1="104.30" x2="55.40" y2="92.90" stroke="#7a7a7a" stroke-width="0.7" stroke-linecap="butt"/>
<path d="M105.0 92.6 L105.9 91.5 L107.1 90.8 L108.0 90.5 L108.8 90.0 L109.8 89.2 L110.8 88.2 L112.0 88.4 L112.4 86.7 L113.3 86.5 L113.9 84.9 L114.7 83.5 L115.3 82.7 L115.6 81.5 L116.3 81.4 L116.8 80.1 L117.4 78.7 L117.7 77.3 L117.8 76.3 L118.4 75.5 L118.6 74.5 L119.0 73.1 L119.5 72.5 L119.5 71.2 L120.0 70.5 L120.3 68.7 L120.6 67.4 L120.5 67.0 L120.6 65.6 L120.7 64.7 L121.2 63.5 L121.5 62.1 L121.6 61.4 L121.7 60.1 L122.0 59.6 L122.0 58.2 L122.0 57.1 L122.4 56.2 L122.7 54.2 L122.7 53.5 L122.7 52.0 L122.9 50.4 L123.1 50.0 L123.3 48.2 L123.6 47.8 L123.6 46.1 L124.0 45.5 L124.4 44.3 L124.4 42.6 L124.7 42.1 L125.2 40.1 L125.1 39.1 L125.4 38.2 L125.8 36.8 L125.8 35.9 L126.2 34.9 L126.8 33.8 L126.9 32.5 L127.3 30.7 L127.7 30.3 L128.1 29.0 L128.3 27.1 L129.0 28.7 L129.7 28.9 L130.5 29.9 L131.2 30.7 L131.3 31.9 L131.5 33.4 L131.7 35.1 L132.2 35.4 L132.2 36.8 L132.4 37.7 L132.9 39.8 L132.9 40.3 L132.9 41.0 L133.2 42.3 L133.9 41.1 L133.9 41.0 L134.9 41.4 L135.2 42.5 L135.4 45.0 L135.8 45.9 L135.8 46.8 L136.0 48.7 L136.4 50.0 L136.6 50.6 L137.1 52.9 L137.4 53.8 L137.7 54.9 L137.8 55.7 L138.2 56.3 L138.4 57.7 L138.9 59.3 L139.7 60.0 L140.1 61.7 L140.5 61.9 L141.5 62.0 L142.6 63.3 L143.3 65.3 L143.8 65.8 L144.1 67.3 L144.2 68.2 L145.4 69.4 L146.1 70.2 L146.6 71.9 L147.5 73.4 L148.6 73.9 L149.2 75.5 L150.1 75.6 L150.7 76.6 L151.9 78.4 L152.7 79.3 L154.3 80.1 L154.6 81.0 L155.1 81.4 L156.1 83.2 L156.5 84.5 L157.3 85.2 L158.3 85.3 L158.9 86.2 L160.1 87.6 L161.3 88.4 L162.5 89.5 L163.8 89.5 L164.9 90.7 L165.7 91.4 L166.7 91.5 L168.1 91.5 L169.5 92.6 Z" fill="#000" stroke="none" stroke-width="1" stroke-linejoin="round" stroke-linecap="round"/>
<path d="M95.0 95.6 L95.8 94.3 L96.4 94.1 L97.3 92.8 L98.4 91.9 L99.1 91.0 L100.0 90.3 L100.2 89.0 L100.8 87.5 L101.5 86.7 L101.8 85.9 L102.4 84.4 L102.7 83.3 L103.1 82.5 L103.5 81.2 L104.0 80.5 L104.4 79.3 L104.9 77.4 L105.0 77.1 L105.5 75.0 L105.5 74.2 L105.8 72.8 L106.1 72.2 L106.8 71.3 L106.8 69.9 L107.4 68.1 L107.9 67.9 L108.0 66.6 L108.4 64.9 L109.1 64.1 L109.1 62.5 L109.7 61.3 L110.0 60.2 L110.7 58.8 L111.0 58.2 L111.2 57.0 L111.9 56.1 L112.0 55.6 L112.7 54.5 L112.8 52.6 L113.2 52.1 L113.7 50.3 L114.1 50.0 L114.6 48.1 L114.7 47.7 L115.2 46.3 L115.3 44.4 L116.0 43.7 L116.0 43.1 L116.6 41.8 L116.6 40.7 L117.0 39.6 L117.5 37.8 L118.1 37.4 L118.5 35.4 L119.1 34.5 L119.4 35.7 L119.9 37.1 L120.4 38.4 L121.0 39.6 L121.3 40.6 L121.9 41.7 L122.5 42.9 L123.1 44.9 L123.3 46.1 L124.1 47.0 L124.5 48.6 L124.8 50.2 L125.2 51.0 L126.0 53.1 L126.5 54.4 L127.1 55.4 L127.3 56.3 L127.4 57.3 L127.8 59.3 L128.2 59.8 L128.5 61.8 L129.2 62.7 L129.3 63.4 L129.7 64.8 L130.0 65.8 L130.5 67.6 L131.2 68.1 L131.3 69.7 L131.7 70.0 L132.1 71.3 L132.9 72.6 L133.4 73.8 L133.8 74.5 L134.4 75.6 L134.9 76.1 L135.8 77.5 L136.7 79.0 L137.6 80.4 L138.4 82.0 L139.1 82.5 L140.2 83.4 L140.9 85.2 L141.4 86.4 L142.6 87.2 L143.3 88.4 L143.8 88.8 L144.8 89.9 L145.8 90.7 L146.8 91.7 L148.1 92.3 L149.0 92.0 L150.0 92.9 L151.1 94.0 L152.4 94.1 L153.5 94.4 L154.5 93.9 L155.7 95.2 L156.7 95.3 L157.8 95.6 Z" fill="#303030" stroke="none" stroke-width="1" stroke-linejoin="round" stroke-linecap="round"/>
<path d="M63.0 99.4 L63.6 97.9 L64.1 97.1 L64.3 96.2 L65.1 95.1 L65.6 95.1 L67.0 93.6 L68.5 93.6 L70.1 93.1 L71.2 91.9 L72.2 91.6 L73.6 91.1 L74.3 89.6 L74.8 88.7 L76.0 87.9 L76.9 86.1 L77.5 85.4 L78.2 84.0 L79.2 83.1 L79.9 83.1 L80.1 81.7 L81.2 81.4 L81.7 79.6 L82.4 79.1 L83.2 77.3 L84.7 75.9 L85.5 74.3 L85.9 73.5 L86.3 72.5 L86.4 71.4 L86.9 69.0 L87.1 68.2 L88.5 69.1 L89.6 69.6 L90.3 69.0 L90.8 67.6 L92.4 66.1 L93.6 65.1 L94.8 63.9 L95.7 65.1 L97.2 65.1 L98.4 63.7 L99.9 63.7 L101.4 64.2 L103.1 65.5 L104.8 65.5 L105.7 66.6 L106.4 68.7 L107.2 69.6 L107.6 70.8 L108.3 71.4 L109.0 71.8 L109.8 73.3 L110.4 74.6 L110.7 74.9 L111.6 76.1 L111.9 77.4 L112.4 79.1 L113.2 79.6 L113.9 80.5 L114.6 81.4 L115.2 81.9 L116.1 83.7 L117.0 83.7 L118.1 85.5 L118.7 85.4 L119.7 86.4 L121.0 87.5 L122.2 88.6 L123.5 90.3 L124.9 90.4 L126.0 91.3 L127.0 92.0 L127.9 92.8 L129.4 93.6 L130.3 94.9 L131.6 95.1 L132.4 95.9 L133.8 96.6 L135.4 97.6 L136.7 97.0 L137.6 98.2 L139.4 98.2 L140.6 98.0 L141.9 99.2 L143.4 99.3 L144.8 98.7 L145.8 98.7 L147.3 99.5 L148.7 99.4 Z" fill="#6a6a6a" stroke="none" stroke-width="1" stroke-linejoin="round" stroke-linecap="round"/>
<path d="M27.8 104.3 L28.6 103.5 L29.0 102.5 L29.4 101.1 L29.8 100.3 L30.6 99.6 L31.6 98.0 L32.1 97.0 L33.1 96.6 L34.1 95.8 L35.5 96.4 L36.7 95.9 L38.1 95.6 L39.2 96.0 L40.7 96.1 L42.0 95.8 L42.9 95.3 L44.5 95.7 L45.1 94.1 L46.0 94.0 L46.8 92.3 L47.7 91.8 L48.0 89.6 L48.6 89.0 L49.3 87.6 L49.9 87.2 L50.3 85.5 L51.0 84.6 L51.8 83.6 L52.3 83.3 L53.1 82.8 L54.1 81.1 L55.2 82.2 L56.6 84.5 L57.0 85.3 L57.7 87.4 L58.2 87.7 L58.8 89.5 L60.0 91.3 L60.7 92.6 L61.6 92.6 L62.0 94.2 L63.5 93.4 L64.7 94.2 L65.7 94.2 L66.8 93.9 L68.1 94.9 L69.7 95.2 L71.0 95.6 L71.9 96.6 L73.4 96.1 L74.2 96.2 L75.5 96.5 L76.6 95.6 L78.2 95.0 L79.3 95.7 L80.6 94.3 L81.5 94.0 L83.0 93.9 L84.0 94.3 L84.9 93.2 L86.8 93.3 L88.1 93.2 L89.3 91.9 L90.4 91.8 L92.0 90.7 L93.2 89.0 L94.0 88.8 L95.6 88.6 L96.4 87.0 L97.6 86.7 L99.0 85.8 L100.2 85.9 L101.8 84.9 L103.3 83.8 L104.2 83.5 L105.4 82.8 L106.1 83.1 L107.2 81.8 L108.3 84.1 L109.6 86.2 L111.6 85.6 L112.9 84.3 L114.4 85.4 L116.3 86.3 L116.9 87.5 L118.0 89.0 L118.8 90.5 L119.6 90.8 L120.5 91.9 L121.1 92.8 L122.8 94.1 L123.4 94.9 L124.2 96.4 L125.2 96.5 L126.3 98.2 L127.6 98.3 L129.0 99.7 L130.2 99.9 L131.2 101.5 L132.7 102.3 L133.6 102.0 L135.0 102.3 L136.7 103.2 L138.1 103.2 L139.4 103.6 L140.5 104.2 L142.0 103.5 L142.9 104.2 L143.9 103.9 L145.0 103.8 L146.1 104.4 L147.4 104.3 Z" fill="#c6c6c6" stroke="none" stroke-width="1" stroke-linejoin="round" stroke-linecap="round"/>
<line x1="27.30" y1="30.90" x2="147.40" y2="30.90" stroke="#2a2a2a" stroke-width="1.1" stroke-linecap="butt"/>
<line x1="147.40" y1="30.90" x2="147.40" y2="104.30" stroke="#444" stroke-width="0.9" stroke-linecap="butt"/>
<line x1="27.30" y1="30.50" x2="27.30" y2="104.70" stroke="#333" stroke-width="0.9" stroke-linecap="butt"/>
<line x1="27.30" y1="104.30" x2="147.40" y2="104.30" stroke="#222" stroke-width="1.0" stroke-linecap="butt"/>
<line x1="24.10" y1="104.30" x2="27.30" y2="104.30" stroke="#333" stroke-width="0.8" stroke-linecap="butt"/>
<line x1="25.80" y1="102.83" x2="27.30" y2="102.83" stroke="#333" stroke-width="0.5" stroke-linecap="butt"/>
<line x1="25.80" y1="101.36" x2="27.30" y2="101.36" stroke="#333" stroke-width="0.5" stroke-linecap="butt"/>
<line x1="25.80" y1="99.90" x2="27.30" y2="99.90" stroke="#333" stroke-width="0.5" stroke-linecap="butt"/>
<line x1="25.80" y1="98.43" x2="27.30" y2="98.43" stroke="#333" stroke-width="0.5" stroke-linecap="butt"/>
<line x1="25.80" y1="96.96" x2="27.30" y2="96.96" stroke="#333" stroke-width="0.5" stroke-linecap="butt"/>
<line x1="25.80" y1="95.49" x2="27.30" y2="95.49" stroke="#333" stroke-width="0.5" stroke-linecap="butt"/>
<line x1="25.80" y1="94.02" x2="27.30" y2="94.02" stroke="#333" stroke-width="0.5" stroke-linecap="butt"/>
<line x1="25.80" y1="92.56" x2="27.30" y2="92.56" stroke="#333" stroke-width="0.5" stroke-linecap="butt"/>
<line x1="25.80" y1="91.09" x2="27.30" y2="91.09" stroke="#333" stroke-width="0.5" stroke-linecap="butt"/>
<line x1="24.10" y1="89.62" x2="27.30" y2="89.62" stroke="#333" stroke-width="0.8" stroke-linecap="butt"/>
<line x1="25.80" y1="88.15" x2="27.30" y2="88.15" stroke="#333" stroke-width="0.5" stroke-linecap="butt"/>
<line x1="25.80" y1="86.68" x2="27.30" y2="86.68" stroke="#333" stroke-width="0.5" stroke-linecap="butt"/>
<line x1="25.80" y1="85.22" x2="27.30" y2="85.22" stroke="#333" stroke-width="0.5" stroke-linecap="butt"/>
<line x1="25.80" y1="83.75" x2="27.30" y2="83.75" stroke="#333" stroke-width="0.5" stroke-linecap="butt"/>
<line x1="25.80" y1="82.28" x2="27.30" y2="82.28" stroke="#333" stroke-width="0.5" stroke-linecap="butt"/>
<line x1="25.80" y1="80.81" x2="27.30" y2="80.81" stroke="#333" stroke-width="0.5" stroke-linecap="butt"/>
<line x1="25.80" y1="79.34" x2="27.30" y2="79.34" stroke="#333" stroke-width="0.5" stroke-linecap="butt"/>
<line x1="25.80" y1="77.88" x2="27.30" y2="77.88" stroke="#333" stroke-width="0.5" stroke-linecap="butt"/>
<line x1="25.80" y1="76.41" x2="27.30" y2="76.41" stroke="#333" stroke-width="0.5" stroke-linecap="butt"/>
<line x1="24.10" y1="74.94" x2="27.30" y2="74.94" stroke="#333" stroke-width="0.8" stroke-linecap="butt"/>
<line x1="25.80" y1="73.47" x2="27.30" y2="73.47" stroke="#333" stroke-width="0.5" stroke-linecap="butt"/>
<line x1="25.80" y1="72.00" x2="27.30" y2="72.00" stroke="#333" stroke-width="0.5" stroke-linecap="butt"/>
<line x1="25.80" y1="70.54" x2="27.30" y2="70.54" stroke="#333" stroke-width="0.5" stroke-linecap="butt"/>
<line x1="25.80" y1="69.07" x2="27.30" y2="69.07" stroke="#333" stroke-width="0.5" stroke-linecap="butt"/>
<line x1="25.80" y1="67.60" x2="27.30" y2="67.60" stroke="#333" stroke-width="0.5" stroke-linecap="butt"/>
<line x1="25.80" y1="66.13" x2="27.30" y2="66.13" stroke="#333" stroke-width="0.5" stroke-linecap="butt"/>
<line x1="25.80" y1="64.66" x2="27.30" y2="64.66" stroke="#333" stroke-width="0.5" stroke-linecap="butt"/>
<line x1="25.80" y1="63.20" x2="27.30" y2="63.20" stroke="#333" stroke-width="0.5" stroke-linecap="butt"/>
<line x1="25.80" y1="61.73" x2="27.30" y2="61.73" stroke="#333" stroke-width="0.5" stroke-linecap="butt"/>
<line x1="24.10" y1="60.26" x2="27.30" y2="60.26" stroke="#333" stroke-width="0.8" stroke-linecap="butt"/>
<line x1="25.80" y1="58.79" x2="27.30" y2="58.79" stroke="#333" stroke-width="0.5" stroke-linecap="butt"/>
<line x1="25.80" y1="57.32" x2="27.30" y2="57.32" stroke="#333" stroke-width="0.5" stroke-linecap="butt"/>
<line x1="25.80" y1="55.86" x2="27.30" y2="55.86" stroke="#333" stroke-width="0.5" stroke-linecap="butt"/>
<line x1="25.80" y1="54.39" x2="27.30" y2="54.39" stroke="#333" stroke-width="0.5" stroke-linecap="butt"/>
<line x1="25.80" y1="52.92" x2="27.30" y2="52.92" stroke="#333" stroke-width="0.5" stroke-linecap="butt"/>
<line x1="25.80" y1="51.45" x2="27.30" y2="51.45" stroke="#333" stroke-width="0.5" stroke-linecap="butt"/>
<line x1="25.80" y1="49.98" x2="27.30" y2="49.98" stroke="#333" stroke-width="0.5" stroke-linecap="butt"/>
<line x1="25.80" y1="48.52" x2="27.30" y2="48.52" stroke="#333" stroke-width="0.5" stroke-linecap="butt"/>
<line x1="25.80" y1="47.05" x2="27.30" y2="47.05" stroke="#333" stroke-width="0.5" stroke-linecap="butt"/>
<line x1="24.10" y1="45.58" x2="27.30" y2="45.58" stroke="#333" stroke-width="0.8" stroke-linecap="butt"/>
<line x1="25.80" y1="44.11" x2="27.30" y2="44.11" stroke="#333" stroke-width="0.5" stroke-linecap="butt"/>
<line x1="25.80" y1="42.64" x2="27.30" y2="42.64" stroke="#333" stroke-width="0.5" stroke-linecap="butt"/>
<line x1="25.80" y1="41.18" x2="27.30" y2="41.18" stroke="#333" stroke-width="0.5" stroke-linecap="butt"/>
<line x1="25.80" y1="39.71" x2="27.30" y2="39.71" stroke="#333" stroke-width="0.5" stroke-linecap="butt"/>
<line x1="25.80" y1="38.24" x2="27.30" y2="38.24" stroke="#333" stroke-width="0.5" stroke-linecap="butt"/>
<line x1="25.80" y1="36.77" x2="27.30" y2="36.77" stroke="#333" stroke-width="0.5" stroke-linecap="butt"/>
<line x1="25.80" y1="35.30" x2="27.30" y2="35.30" stroke="#333" stroke-width="0.5" stroke-linecap="butt"/>
<line x1="25.80" y1="33.84" x2="27.30" y2="33.84" stroke="#333" stroke-width="0.5" stroke-linecap="butt"/>
<line x1="25.80" y1="32.37" x2="27.30" y2="32.37" stroke="#333" stroke-width="0.5" stroke-linecap="butt"/>
<line x1="24.10" y1="30.90" x2="27.30" y2="30.90" stroke="#333" stroke-width="0.8" stroke-linecap="butt"/>
<line x1="27.30" y1="104.30" x2="27.30" y2="106.70" stroke="#333" stroke-width="0.8" stroke-linecap="butt"/>
<line x1="36.34" y1="104.30" x2="36.34" y2="105.50" stroke="#333" stroke-width="0.5" stroke-linecap="butt"/>
<line x1="41.63" y1="104.30" x2="41.63" y2="105.50" stroke="#333" stroke-width="0.5" stroke-linecap="butt"/>
<line x1="45.38" y1="104.30" x2="45.38" y2="105.50" stroke="#333" stroke-width="0.5" stroke-linecap="butt"/>
<line x1="48.29" y1="104.30" x2="48.29" y2="105.50" stroke="#333" stroke-width="0.5" stroke-linecap="butt"/>
<line x1="50.66" y1="104.30" x2="50.66" y2="105.50" stroke="#333" stroke-width="0.5" stroke-linecap="butt"/>
<line x1="52.67" y1="104.30" x2="52.67" y2="105.50" stroke="#333" stroke-width="0.5" stroke-linecap="butt"/>
<line x1="54.42" y1="104.30" x2="54.42" y2="105.50" stroke="#333" stroke-width="0.5" stroke-linecap="butt"/>
<line x1="55.95" y1="104.30" x2="55.95" y2="105.50" stroke="#333" stroke-width="0.5" stroke-linecap="butt"/>
<line x1="57.33" y1="104.30" x2="57.33" y2="106.70" stroke="#333" stroke-width="0.8" stroke-linecap="butt"/>
<line x1="66.36" y1="104.30" x2="66.36" y2="105.50" stroke="#333" stroke-width="0.5" stroke-linecap="butt"/>
<line x1="71.65" y1="104.30" x2="71.65" y2="105.50" stroke="#333" stroke-width="0.5" stroke-linecap="butt"/>
<line x1="75.40" y1="104.30" x2="75.40" y2="105.50" stroke="#333" stroke-width="0.5" stroke-linecap="butt"/>
<line x1="78.31" y1="104.30" x2="78.31" y2="105.50" stroke="#333" stroke-width="0.5" stroke-linecap="butt"/>
<line x1="80.69" y1="104.30" x2="80.69" y2="105.50" stroke="#333" stroke-width="0.5" stroke-linecap="butt"/>
<line x1="82.70" y1="104.30" x2="82.70" y2="105.50" stroke="#333" stroke-width="0.5" stroke-linecap="butt"/>
<line x1="84.44" y1="104.30" x2="84.44" y2="105.50" stroke="#333" stroke-width="0.5" stroke-linecap="butt"/>
<line x1="85.98" y1="104.30" x2="85.98" y2="105.50" stroke="#333" stroke-width="0.5" stroke-linecap="butt"/>
<line x1="87.35" y1="104.30" x2="87.35" y2="106.70" stroke="#333" stroke-width="0.8" stroke-linecap="butt"/>
<line x1="96.39" y1="104.30" x2="96.39" y2="105.50" stroke="#333" stroke-width="0.5" stroke-linecap="butt"/>
<line x1="101.68" y1="104.30" x2="101.68" y2="105.50" stroke="#333" stroke-width="0.5" stroke-linecap="butt"/>
<line x1="105.43" y1="104.30" x2="105.43" y2="105.50" stroke="#333" stroke-width="0.5" stroke-linecap="butt"/>
<line x1="108.34" y1="104.30" x2="108.34" y2="105.50" stroke="#333" stroke-width="0.5" stroke-linecap="butt"/>
<line x1="110.71" y1="104.30" x2="110.71" y2="105.50" stroke="#333" stroke-width="0.5" stroke-linecap="butt"/>
<line x1="112.72" y1="104.30" x2="112.72" y2="105.50" stroke="#333" stroke-width="0.5" stroke-linecap="butt"/>
<line x1="114.47" y1="104.30" x2="114.47" y2="105.50" stroke="#333" stroke-width="0.5" stroke-linecap="butt"/>
<line x1="116.00" y1="104.30" x2="116.00" y2="105.50" stroke="#333" stroke-width="0.5" stroke-linecap="butt"/>
<line x1="117.38" y1="104.30" x2="117.38" y2="106.70" stroke="#333" stroke-width="0.8" stroke-linecap="butt"/>
<line x1="126.41" y1="104.30" x2="126.41" y2="105.50" stroke="#333" stroke-width="0.5" stroke-linecap="butt"/>
<line x1="131.70" y1="104.30" x2="131.70" y2="105.50" stroke="#333" stroke-width="0.5" stroke-linecap="butt"/>
<line x1="135.45" y1="104.30" x2="135.45" y2="105.50" stroke="#333" stroke-width="0.5" stroke-linecap="butt"/>
<line x1="138.36" y1="104.30" x2="138.36" y2="105.50" stroke="#333" stroke-width="0.5" stroke-linecap="butt"/>
<line x1="140.74" y1="104.30" x2="140.74" y2="105.50" stroke="#333" stroke-width="0.5" stroke-linecap="butt"/>
<line x1="142.75" y1="104.30" x2="142.75" y2="105.50" stroke="#333" stroke-width="0.5" stroke-linecap="butt"/>
<line x1="144.49" y1="104.30" x2="144.49" y2="105.50" stroke="#333" stroke-width="0.5" stroke-linecap="butt"/>
<line x1="146.03" y1="104.30" x2="146.03" y2="105.50" stroke="#333" stroke-width="0.5" stroke-linecap="butt"/>
<line x1="147.40" y1="104.30" x2="147.40" y2="106.70" stroke="#333" stroke-width="0.8" stroke-linecap="butt"/>
<text class="e" x="23.50" y="34.20" style="font-size:7.66px" textLength="12.44" lengthAdjust="spacingAndGlyphs">100</text>
<text class="e" x="23.50" y="49.20" style="font-size:7.66px" textLength="8.29" lengthAdjust="spacingAndGlyphs">80</text>
<text class="e" x="23.50" y="64.00" style="font-size:7.66px" textLength="8.29" lengthAdjust="spacingAndGlyphs">60</text>
<text class="e" x="23.50" y="79.00" style="font-size:7.66px" textLength="8.29" lengthAdjust="spacingAndGlyphs">40</text>
<text class="e" x="23.50" y="94.40" style="font-size:7.66px" textLength="8.29" lengthAdjust="spacingAndGlyphs">20</text>
<text x="28.50" y="114.80" style="font-size:7.9px">10<tspan dy="-3.6" style="font-size:4.3px;stroke-width:0.1px">0</tspan></text>
<text x="57.00" y="114.80" style="font-size:7.9px">10<tspan dy="-3.6" style="font-size:4.3px;stroke-width:0.1px">1</tspan></text>
<text x="86.40" y="114.80" style="font-size:7.9px">10<tspan dy="-3.6" style="font-size:4.3px;stroke-width:0.1px">2</tspan></text>
<text x="116.00" y="114.80" style="font-size:7.9px">10<tspan dy="-3.6" style="font-size:4.3px;stroke-width:0.1px">3</tspan></text>
<text x="145.90" y="114.80" style="font-size:7.9px">10<tspan dy="-3.6" style="font-size:4.3px;stroke-width:0.1px">4</tspan></text>
<text x="11.50" y="66.20" style="font-size:8.24px" textLength="36.50" lengthAdjust="spacingAndGlyphs" transform="rotate(-90 11.50 66.20)">Cell counts</text>
<line x1="38.50" y1="118.10" x2="144.00" y2="118.10" stroke="#000" stroke-width="1.0" stroke-linecap="butt"/>
<path d="M138.0 116.0 L148.0 118.1 L138.0 120.2 Z" fill="#000" stroke="none" stroke-width="1" stroke-linejoin="round" stroke-linecap="round"/>
<text x="94.60" y="125.90" style="font-size:7.27px" textLength="71.00" lengthAdjust="spacingAndGlyphs">FITC-Fibrinogen binding</text>
<text class="n" x="109.50" y="31.50" style="font-size:7.57px" textLength="40.50" lengthAdjust="spacingAndGlyphs">GW3965 0 µM</text>
<text class="n" x="104.30" y="54.00" style="font-size:7.57px" textLength="14.00" lengthAdjust="spacingAndGlyphs">5 µM</text>
<text class="n" x="78.80" y="76.90" style="font-size:7.57px" textLength="17.30" lengthAdjust="spacingAndGlyphs">10 µM</text>
<text class="n" x="46.80" y="94.80" style="font-size:7.57px" textLength="20.20" lengthAdjust="spacingAndGlyphs">Resting</text>
<line x1="58.20" y1="152.40" x2="175.00" y2="152.40" stroke="#8a8a8a" stroke-width="0.7" stroke-linecap="butt"/>
<line x1="175.00" y1="152.40" x2="175.00" y2="225.30" stroke="#8a8a8a" stroke-width="0.7" stroke-linecap="butt"/>
<line x1="58.20" y1="152.40" x2="58.20" y2="225.30" stroke="#8a8a8a" stroke-width="0.7" stroke-linecap="butt"/>
<line x1="58.20" y1="225.30" x2="175.00" y2="225.30" stroke="#8a8a8a" stroke-width="0.7" stroke-linecap="butt"/>
<line x1="30.60" y1="163.40" x2="58.20" y2="152.40" stroke="#8a8a8a" stroke-width="0.7" stroke-linecap="butt"/>
<line x1="147.40" y1="163.40" x2="175.00" y2="152.40" stroke="#8a8a8a" stroke-width="0.7" stroke-linecap="butt"/>
<line x1="147.40" y1="236.30" x2="175.00" y2="225.30" stroke="#8a8a8a" stroke-width="0.7" stroke-linecap="butt"/>
<line x1="30.60" y1="236.30" x2="58.20" y2="225.30" stroke="#8a8a8a" stroke-width="0.7" stroke-linecap="butt"/>
<path d="M118.0 224.0 L118.7 222.6 L119.1 221.8 L120.1 220.6 L120.6 219.6 L121.5 219.1 L121.8 217.5 L122.6 217.1 L123.4 215.5 L123.8 215.2 L124.2 213.7 L124.5 213.4 L124.8 211.9 L125.1 210.6 L125.6 210.2 L125.6 208.2 L126.1 207.1 L126.0 206.9 L126.5 205.7 L126.8 204.7 L127.1 202.8 L127.2 202.2 L127.8 201.6 L127.8 200.1 L128.2 198.9 L128.3 197.6 L128.7 197.2 L128.7 195.6 L129.3 195.1 L129.2 193.0 L129.8 192.9 L129.8 190.7 L130.3 190.0 L130.5 189.2 L130.7 187.6 L131.0 186.5 L131.1 186.1 L131.6 184.1 L131.6 183.2 L132.1 182.0 L132.2 180.7 L132.8 180.3 L132.8 178.7 L133.4 176.9 L133.9 176.0 L134.1 175.5 L134.6 174.2 L134.9 173.5 L135.3 172.6 L135.7 171.3 L135.9 170.5 L136.5 169.0 L137.2 168.2 L137.6 166.1 L138.6 164.8 L140.3 165.9 L141.4 167.6 L142.7 168.9 L143.3 170.1 L143.8 172.1 L144.1 172.9 L144.5 174.9 L145.0 175.9 L145.2 178.3 L145.4 179.5 L145.4 180.9 L145.8 182.1 L146.3 182.4 L146.4 184.5 L146.3 185.0 L146.9 186.0 L147.2 187.3 L147.5 188.4 L147.6 190.5 L147.7 190.9 L148.1 192.1 L148.1 193.1 L148.3 195.3 L148.8 196.5 L148.7 197.7 L148.9 198.6 L149.3 199.6 L149.6 201.0 L149.7 202.6 L149.6 203.9 L150.1 204.4 L150.3 205.6 L150.6 207.3 L150.5 208.9 L150.8 209.5 L151.3 210.6 L151.8 212.0 L152.1 214.1 L152.6 215.1 L153.1 215.8 L153.6 217.3 L154.5 218.9 L155.0 220.6 L155.4 221.0 L156.4 221.6 L156.9 222.8 L158.9 224.0 Z" fill="#000" stroke="none" stroke-width="1" stroke-linejoin="round" stroke-linecap="round"/>
<path d="M110.0 225.7 L110.3 224.6 L111.0 223.9 L111.7 222.4 L112.2 221.8 L112.5 221.4 L113.1 219.4 L113.6 219.1 L114.5 218.3 L114.9 216.7 L115.2 216.1 L116.0 214.8 L116.3 213.8 L116.8 213.0 L116.7 212.1 L116.8 210.5 L117.3 209.0 L117.4 208.5 L117.6 207.1 L118.4 205.5 L118.2 204.9 L118.7 203.8 L119.1 202.1 L119.1 201.2 L119.2 200.7 L119.9 199.4 L119.8 198.4 L120.4 196.9 L120.6 195.7 L120.6 194.2 L120.9 193.0 L121.2 192.8 L121.6 191.8 L121.9 190.0 L122.0 189.1 L122.4 188.1 L122.4 187.2 L123.1 185.6 L123.4 184.2 L123.5 183.4 L124.1 183.1 L124.4 181.3 L125.1 180.0 L125.3 179.3 L126.1 177.7 L126.9 176.8 L127.6 175.4 L128.1 174.3 L128.4 173.1 L129.2 171.6 L130.8 172.4 L131.4 174.5 L132.0 174.7 L132.5 177.1 L133.1 177.3 L133.4 178.3 L134.2 180.2 L134.7 181.6 L134.8 182.7 L135.4 184.3 L136.1 185.7 L136.2 187.1 L137.1 188.5 L137.2 189.0 L137.6 190.2 L138.5 192.5 L138.7 193.7 L139.1 194.3 L139.1 195.3 L139.8 196.6 L139.9 198.1 L140.1 199.1 L140.6 200.9 L140.9 201.6 L141.6 203.1 L141.8 204.4 L141.7 205.4 L142.3 207.1 L142.5 208.2 L142.9 208.8 L143.4 209.8 L143.7 211.1 L143.7 212.3 L144.4 214.4 L144.5 215.0 L145.3 216.9 L145.7 218.0 L146.4 219.5 L146.8 220.7 L147.4 220.9 L148.4 222.4 L148.9 223.9 L150.5 225.3 L152.4 225.7 Z" fill="#2c2c2c" stroke="none" stroke-width="1" stroke-linejoin="round" stroke-linecap="round"/>
<path d="M100.0 229.0 L100.6 228.3 L101.2 226.8 L101.6 225.9 L102.4 224.5 L102.9 223.4 L103.1 222.7 L104.0 222.0 L104.3 221.5 L104.8 220.0 L105.5 219.3 L106.1 218.2 L106.3 216.7 L106.5 216.2 L107.1 215.0 L107.2 213.6 L107.8 212.7 L107.8 211.5 L108.5 210.1 L108.5 209.1 L109.1 208.7 L109.2 206.8 L109.5 205.9 L110.0 204.6 L110.3 203.5 L111.1 203.1 L111.1 202.3 L111.5 200.5 L112.4 200.0 L112.6 198.5 L112.8 197.6 L113.2 196.0 L113.7 194.7 L114.0 194.5 L114.4 193.1 L114.7 192.0 L114.7 190.8 L115.2 189.7 L115.8 188.1 L115.9 187.2 L116.2 185.3 L116.6 184.9 L116.8 183.5 L117.1 182.4 L117.3 180.9 L117.6 179.8 L118.0 178.2 L119.4 179.7 L120.4 180.2 L121.5 181.4 L122.0 180.3 L122.5 179.8 L123.4 179.3 L124.3 180.3 L124.8 182.3 L125.2 183.1 L125.7 184.4 L126.6 185.1 L126.6 186.2 L127.3 187.5 L127.8 188.6 L128.4 189.8 L128.7 191.5 L128.9 192.3 L129.3 193.5 L129.6 194.8 L130.0 194.8 L130.5 196.5 L130.8 197.9 L131.5 199.5 L131.9 200.4 L132.3 202.3 L133.1 203.4 L133.2 205.1 L133.6 205.8 L133.9 207.8 L134.7 209.0 L135.0 210.2 L135.3 212.1 L135.7 213.0 L136.4 214.5 L136.6 215.3 L137.0 216.4 L137.6 218.1 L138.0 219.3 L138.3 220.4 L138.8 221.5 L139.2 223.3 L139.8 223.7 L140.4 225.0 L141.0 226.3 L141.9 226.8 L142.8 228.3 L144.3 229.0 Z" fill="#6c6c6c" stroke="none" stroke-width="1" stroke-linejoin="round" stroke-linecap="round"/>
<path d="M90.0 231.8 L90.4 231.2 L91.4 230.2 L91.6 229.3 L92.5 227.3 L92.8 227.4 L93.7 225.6 L94.0 224.5 L94.7 224.3 L95.3 222.6 L96.2 222.4 L96.2 221.4 L96.8 220.2 L97.2 219.2 L97.6 218.0 L97.7 216.8 L98.2 215.7 L98.5 214.8 L98.9 213.0 L99.1 211.7 L99.6 210.6 L100.0 209.6 L100.7 209.1 L101.4 208.5 L101.9 207.6 L102.8 206.3 L103.6 205.7 L104.1 204.2 L105.1 202.9 L105.8 202.8 L106.3 201.9 L107.4 201.5 L108.0 200.8 L108.8 198.8 L109.7 196.9 L111.1 196.3 L112.1 197.5 L113.3 198.0 L114.2 199.4 L114.9 200.1 L115.7 201.7 L116.6 202.8 L117.3 204.3 L117.8 205.6 L118.4 207.7 L119.1 208.7 L119.5 209.3 L120.1 210.8 L120.9 212.3 L121.3 213.5 L122.3 214.4 L122.4 215.2 L123.0 216.1 L123.9 217.7 L124.3 218.9 L125.0 219.7 L125.4 220.9 L126.0 222.0 L126.5 222.7 L127.1 224.0 L127.7 224.6 L127.9 225.5 L129.0 227.8 L129.8 228.3 L130.7 229.7 L131.3 229.9 L132.4 230.7 L133.6 231.2 L135.0 232.1 L136.2 231.8 Z" fill="#a2a2a2" stroke="none" stroke-width="1" stroke-linejoin="round" stroke-linecap="round"/>
<path d="M30.8 236.3 L31.6 235.9 L32.7 234.9 L34.1 235.0 L35.2 234.4 L36.0 234.0 L37.4 234.2 L38.8 233.3 L39.8 232.4 L41.1 232.2 L42.0 231.6 L43.1 232.0 L44.3 232.0 L45.5 231.5 L46.6 230.2 L48.1 230.1 L49.2 229.9 L50.0 230.5 L51.4 230.5 L52.6 229.4 L53.6 230.1 L54.7 230.2 L55.7 230.2 L57.1 229.1 L58.0 230.0 L59.7 229.5 L60.7 230.4 L61.8 230.6 L63.3 229.7 L64.6 230.4 L66.0 230.5 L67.2 230.4 L68.6 230.0 L70.1 229.5 L70.9 229.4 L72.2 228.9 L73.0 227.8 L74.2 227.8 L75.9 226.9 L77.1 226.3 L78.8 226.2 L80.1 225.3 L81.0 225.7 L82.1 225.3 L83.3 225.3 L84.5 224.4 L85.2 224.1 L86.5 224.3 L87.7 223.9 L88.3 223.1 L89.7 222.4 L90.3 220.9 L91.3 220.8 L92.0 220.1 L92.6 218.3 L93.3 218.2 L93.7 217.2 L94.6 215.6 L95.1 215.2 L95.6 213.7 L96.0 213.4 L96.9 212.1 L97.1 211.6 L98.0 209.8 L98.5 209.5 L99.2 208.0 L100.4 206.6 L100.8 204.9 L102.9 205.2 L104.9 204.7 L106.6 205.3 L107.6 205.2 L109.1 206.0 L109.4 207.5 L110.4 208.0 L110.9 209.3 L111.6 210.1 L112.0 212.5 L113.1 213.1 L113.6 214.1 L114.4 215.5 L115.2 217.0 L115.8 218.3 L116.4 217.8 L117.3 218.6 L118.1 219.1 L119.3 220.7 L120.0 221.9 L121.0 221.9 L121.6 223.4 L122.2 225.2 L123.0 225.8 L124.0 227.4 L124.8 228.0 L125.4 228.9 L126.4 231.1 L126.8 231.1 L127.6 232.6 L128.7 234.4 L129.8 234.1 L130.9 235.7 L132.2 236.3 Z" fill="#c4c4c4" stroke="none" stroke-width="1" stroke-linejoin="round" stroke-linecap="round"/>
<line x1="30.60" y1="163.40" x2="147.40" y2="163.40" stroke="#2a2a2a" stroke-width="1.1" stroke-linecap="butt"/>
<line x1="147.40" y1="163.40" x2="147.40" y2="236.30" stroke="#444" stroke-width="0.9" stroke-linecap="butt"/>
<line x1="30.60" y1="163.00" x2="30.60" y2="236.70" stroke="#333" stroke-width="0.9" stroke-linecap="butt"/>
<line x1="30.60" y1="236.30" x2="147.40" y2="236.30" stroke="#222" stroke-width="1.0" stroke-linecap="butt"/>
<line x1="27.40" y1="236.30" x2="30.60" y2="236.30" stroke="#333" stroke-width="0.8" stroke-linecap="butt"/>
<line x1="29.10" y1="234.84" x2="30.60" y2="234.84" stroke="#333" stroke-width="0.5" stroke-linecap="butt"/>
<line x1="29.10" y1="233.38" x2="30.60" y2="233.38" stroke="#333" stroke-width="0.5" stroke-linecap="butt"/>
<line x1="29.10" y1="231.93" x2="30.60" y2="231.93" stroke="#333" stroke-width="0.5" stroke-linecap="butt"/>
<line x1="29.10" y1="230.47" x2="30.60" y2="230.47" stroke="#333" stroke-width="0.5" stroke-linecap="butt"/>
<line x1="29.10" y1="229.01" x2="30.60" y2="229.01" stroke="#333" stroke-width="0.5" stroke-linecap="butt"/>
<line x1="29.10" y1="227.55" x2="30.60" y2="227.55" stroke="#333" stroke-width="0.5" stroke-linecap="butt"/>
<line x1="29.10" y1="226.09" x2="30.60" y2="226.09" stroke="#333" stroke-width="0.5" stroke-linecap="butt"/>
<line x1="29.10" y1="224.64" x2="30.60" y2="224.64" stroke="#333" stroke-width="0.5" stroke-linecap="butt"/>
<line x1="29.10" y1="223.18" x2="30.60" y2="223.18" stroke="#333" stroke-width="0.5" stroke-linecap="butt"/>
<line x1="27.40" y1="221.72" x2="30.60" y2="221.72" stroke="#333" stroke-width="0.8" stroke-linecap="butt"/>
<line x1="29.10" y1="220.26" x2="30.60" y2="220.26" stroke="#333" stroke-width="0.5" stroke-linecap="butt"/>
<line x1="29.10" y1="218.80" x2="30.60" y2="218.80" stroke="#333" stroke-width="0.5" stroke-linecap="butt"/>
<line x1="29.10" y1="217.35" x2="30.60" y2="217.35" stroke="#333" stroke-width="0.5" stroke-linecap="butt"/>
<line x1="29.10" y1="215.89" x2="30.60" y2="215.89" stroke="#333" stroke-width="0.5" stroke-linecap="butt"/>
<line x1="29.10" y1="214.43" x2="30.60" y2="214.43" stroke="#333" stroke-width="0.5" stroke-linecap="butt"/>
<line x1="29.10" y1="212.97" x2="30.60" y2="212.97" stroke="#333" stroke-width="0.5" stroke-linecap="butt"/>
<line x1="29.10" y1="211.51" x2="30.60" y2="211.51" stroke="#333" stroke-width="0.5" stroke-linecap="butt"/>
<line x1="29.10" y1="210.06" x2="30.60" y2="210.06" stroke="#333" stroke-width="0.5" stroke-linecap="butt"/>
<line x1="29.10" y1="208.60" x2="30.60" y2="208.60" stroke="#333" stroke-width="0.5" stroke-linecap="butt"/>
<line x1="27.40" y1="207.14" x2="30.60" y2="207.14" stroke="#333" stroke-width="0.8" stroke-linecap="butt"/>
<line x1="29.10" y1="205.68" x2="30.60" y2="205.68" stroke="#333" stroke-width="0.5" stroke-linecap="butt"/>
<line x1="29.10" y1="204.22" x2="30.60" y2="204.22" stroke="#333" stroke-width="0.5" stroke-linecap="butt"/>
<line x1="29.10" y1="202.77" x2="30.60" y2="202.77" stroke="#333" stroke-width="0.5" stroke-linecap="butt"/>
<line x1="29.10" y1="201.31" x2="30.60" y2="201.31" stroke="#333" stroke-width="0.5" stroke-linecap="butt"/>
<line x1="29.10" y1="199.85" x2="30.60" y2="199.85" stroke="#333" stroke-width="0.5" stroke-linecap="butt"/>
<line x1="29.10" y1="198.39" x2="30.60" y2="198.39" stroke="#333" stroke-width="0.5" stroke-linecap="butt"/>
<line x1="29.10" y1="196.93" x2="30.60" y2="196.93" stroke="#333" stroke-width="0.5" stroke-linecap="butt"/>
<line x1="29.10" y1="195.48" x2="30.60" y2="195.48" stroke="#333" stroke-width="0.5" stroke-linecap="butt"/>
<line x1="29.10" y1="194.02" x2="30.60" y2="194.02" stroke="#333" stroke-width="0.5" stroke-linecap="butt"/>
<line x1="27.40" y1="192.56" x2="30.60" y2="192.56" stroke="#333" stroke-width="0.8" stroke-linecap="butt"/>
<line x1="29.10" y1="191.10" x2="30.60" y2="191.10" stroke="#333" stroke-width="0.5" stroke-linecap="butt"/>
<line x1="29.10" y1="189.64" x2="30.60" y2="189.64" stroke="#333" stroke-width="0.5" stroke-linecap="butt"/>
<line x1="29.10" y1="188.19" x2="30.60" y2="188.19" stroke="#333" stroke-width="0.5" stroke-linecap="butt"/>
<line x1="29.10" y1="186.73" x2="30.60" y2="186.73" stroke="#333" stroke-width="0.5" stroke-linecap="butt"/>
<line x1="29.10" y1="185.27" x2="30.60" y2="185.27" stroke="#333" stroke-width="0.5" stroke-linecap="butt"/>
<line x1="29.10" y1="183.81" x2="30.60" y2="183.81" stroke="#333" stroke-width="0.5" stroke-linecap="butt"/>
<line x1="29.10" y1="182.35" x2="30.60" y2="182.35" stroke="#333" stroke-width="0.5" stroke-linecap="butt"/>
<line x1="29.10" y1="180.90" x2="30.60" y2="180.90" stroke="#333" stroke-width="0.5" stroke-linecap="butt"/>
<line x1="29.10" y1="179.44" x2="30.60" y2="179.44" stroke="#333" stroke-width="0.5" stroke-linecap="butt"/>
<line x1="27.40" y1="177.98" x2="30.60" y2="177.98" stroke="#333" stroke-width="0.8" stroke-linecap="butt"/>
<line x1="29.10" y1="176.52" x2="30.60" y2="176.52" stroke="#333" stroke-width="0.5" stroke-linecap="butt"/>
<line x1="29.10" y1="175.06" x2="30.60" y2="175.06" stroke="#333" stroke-width="0.5" stroke-linecap="butt"/>
<line x1="29.10" y1="173.61" x2="30.60" y2="173.61" stroke="#333" stroke-width="0.5" stroke-linecap="butt"/>
<line x1="29.10" y1="172.15" x2="30.60" y2="172.15" stroke="#333" stroke-width="0.5" stroke-linecap="butt"/>
<line x1="29.10" y1="170.69" x2="30.60" y2="170.69" stroke="#333" stroke-width="0.5" stroke-linecap="butt"/>
<line x1="29.10" y1="169.23" x2="30.60" y2="169.23" stroke="#333" stroke-width="0.5" stroke-linecap="butt"/>
<line x1="29.10" y1="167.77" x2="30.60" y2="167.77" stroke="#333" stroke-width="0.5" stroke-linecap="butt"/>
<line x1="29.10" y1="166.32" x2="30.60" y2="166.32" stroke="#333" stroke-width="0.5" stroke-linecap="butt"/>
<line x1="29.10" y1="164.86" x2="30.60" y2="164.86" stroke="#333" stroke-width="0.5" stroke-linecap="butt"/>
<line x1="27.40" y1="163.40" x2="30.60" y2="163.40" stroke="#333" stroke-width="0.8" stroke-linecap="butt"/>
<line x1="30.60" y1="236.30" x2="30.60" y2="238.70" stroke="#333" stroke-width="0.8" stroke-linecap="butt"/>
<line x1="39.39" y1="236.30" x2="39.39" y2="237.50" stroke="#333" stroke-width="0.5" stroke-linecap="butt"/>
<line x1="44.53" y1="236.30" x2="44.53" y2="237.50" stroke="#333" stroke-width="0.5" stroke-linecap="butt"/>
<line x1="48.18" y1="236.30" x2="48.18" y2="237.50" stroke="#333" stroke-width="0.5" stroke-linecap="butt"/>
<line x1="51.01" y1="236.30" x2="51.01" y2="237.50" stroke="#333" stroke-width="0.5" stroke-linecap="butt"/>
<line x1="53.32" y1="236.30" x2="53.32" y2="237.50" stroke="#333" stroke-width="0.5" stroke-linecap="butt"/>
<line x1="55.28" y1="236.30" x2="55.28" y2="237.50" stroke="#333" stroke-width="0.5" stroke-linecap="butt"/>
<line x1="56.97" y1="236.30" x2="56.97" y2="237.50" stroke="#333" stroke-width="0.5" stroke-linecap="butt"/>
<line x1="58.46" y1="236.30" x2="58.46" y2="237.50" stroke="#333" stroke-width="0.5" stroke-linecap="butt"/>
<line x1="59.80" y1="236.30" x2="59.80" y2="238.70" stroke="#333" stroke-width="0.8" stroke-linecap="butt"/>
<line x1="68.59" y1="236.30" x2="68.59" y2="237.50" stroke="#333" stroke-width="0.5" stroke-linecap="butt"/>
<line x1="73.73" y1="236.30" x2="73.73" y2="237.50" stroke="#333" stroke-width="0.5" stroke-linecap="butt"/>
<line x1="77.38" y1="236.30" x2="77.38" y2="237.50" stroke="#333" stroke-width="0.5" stroke-linecap="butt"/>
<line x1="80.21" y1="236.30" x2="80.21" y2="237.50" stroke="#333" stroke-width="0.5" stroke-linecap="butt"/>
<line x1="82.52" y1="236.30" x2="82.52" y2="237.50" stroke="#333" stroke-width="0.5" stroke-linecap="butt"/>
<line x1="84.48" y1="236.30" x2="84.48" y2="237.50" stroke="#333" stroke-width="0.5" stroke-linecap="butt"/>
<line x1="86.17" y1="236.30" x2="86.17" y2="237.50" stroke="#333" stroke-width="0.5" stroke-linecap="butt"/>
<line x1="87.66" y1="236.30" x2="87.66" y2="237.50" stroke="#333" stroke-width="0.5" stroke-linecap="butt"/>
<line x1="89.00" y1="236.30" x2="89.00" y2="238.70" stroke="#333" stroke-width="0.8" stroke-linecap="butt"/>
<line x1="97.79" y1="236.30" x2="97.79" y2="237.50" stroke="#333" stroke-width="0.5" stroke-linecap="butt"/>
<line x1="102.93" y1="236.30" x2="102.93" y2="237.50" stroke="#333" stroke-width="0.5" stroke-linecap="butt"/>
<line x1="106.58" y1="236.30" x2="106.58" y2="237.50" stroke="#333" stroke-width="0.5" stroke-linecap="butt"/>
<line x1="109.41" y1="236.30" x2="109.41" y2="237.50" stroke="#333" stroke-width="0.5" stroke-linecap="butt"/>
<line x1="111.72" y1="236.30" x2="111.72" y2="237.50" stroke="#333" stroke-width="0.5" stroke-linecap="butt"/>
<line x1="113.68" y1="236.30" x2="113.68" y2="237.50" stroke="#333" stroke-width="0.5" stroke-linecap="butt"/>
<line x1="115.37" y1="236.30" x2="115.37" y2="237.50" stroke="#333" stroke-width="0.5" stroke-linecap="butt"/>
<line x1="116.86" y1="236.30" x2="116.86" y2="237.50" stroke="#333" stroke-width="0.5" stroke-linecap="butt"/>
<line x1="118.20" y1="236.30" x2="118.20" y2="238.70" stroke="#333" stroke-width="0.8" stroke-linecap="butt"/>
<line x1="126.99" y1="236.30" x2="126.99" y2="237.50" stroke="#333" stroke-width="0.5" stroke-linecap="butt"/>
<line x1="132.13" y1="236.30" x2="132.13" y2="237.50" stroke="#333" stroke-width="0.5" stroke-linecap="butt"/>
<line x1="135.78" y1="236.30" x2="135.78" y2="237.50" stroke="#333" stroke-width="0.5" stroke-linecap="butt"/>
<line x1="138.61" y1="236.30" x2="138.61" y2="237.50" stroke="#333" stroke-width="0.5" stroke-linecap="butt"/>
<line x1="140.92" y1="236.30" x2="140.92" y2="237.50" stroke="#333" stroke-width="0.5" stroke-linecap="butt"/>
<line x1="142.88" y1="236.30" x2="142.88" y2="237.50" stroke="#333" stroke-width="0.5" stroke-linecap="butt"/>
<line x1="144.57" y1="236.30" x2="144.57" y2="237.50" stroke="#333" stroke-width="0.5" stroke-linecap="butt"/>
<line x1="146.06" y1="236.30" x2="146.06" y2="237.50" stroke="#333" stroke-width="0.5" stroke-linecap="butt"/>
<line x1="147.40" y1="236.30" x2="147.40" y2="238.70" stroke="#333" stroke-width="0.8" stroke-linecap="butt"/>
<text class="e" x="26.60" y="166.50" style="font-size:7.66px" textLength="12.44" lengthAdjust="spacingAndGlyphs">100</text>
<text class="e" x="26.60" y="181.50" style="font-size:7.66px" textLength="8.29" lengthAdjust="spacingAndGlyphs">80</text>
<text class="e" x="26.60" y="196.30" style="font-size:7.66px" textLength="8.29" lengthAdjust="spacingAndGlyphs">60</text>
<text class="e" x="26.60" y="211.30" style="font-size:7.66px" textLength="8.29" lengthAdjust="spacingAndGlyphs">40</text>
<text class="e" x="26.60" y="226.20" style="font-size:7.66px" textLength="8.29" lengthAdjust="spacingAndGlyphs">20</text>
<text x="31.30" y="247.30" style="font-size:7.9px">10<tspan dy="-3.6" style="font-size:4.3px;stroke-width:0.1px">0</tspan></text>
<text x="59.70" y="247.30" style="font-size:7.9px">10<tspan dy="-3.6" style="font-size:4.3px;stroke-width:0.1px">1</tspan></text>
<text x="87.40" y="247.30" style="font-size:7.9px">10<tspan dy="-3.6" style="font-size:4.3px;stroke-width:0.1px">2</tspan></text>
<text x="114.80" y="247.30" style="font-size:7.9px">10<tspan dy="-3.6" style="font-size:4.3px;stroke-width:0.1px">3</tspan></text>
<text x="143.40" y="247.30" style="font-size:7.9px">10<tspan dy="-3.6" style="font-size:4.3px;stroke-width:0.1px">4</tspan></text>
<text x="15.00" y="198.70" style="font-size:8.24px" textLength="36.50" lengthAdjust="spacingAndGlyphs" transform="rotate(-90 15.00 198.70)">Cell counts</text>
<line x1="41.50" y1="250.90" x2="143.00" y2="250.90" stroke="#000" stroke-width="1.0" stroke-linecap="butt"/>
<path d="M137.0 248.8 L147.0 250.9 L137.0 253.0 Z" fill="#000" stroke="none" stroke-width="1" stroke-linejoin="round" stroke-linecap="round"/>
<text x="99.30" y="259.50" style="font-size:7.47px" textLength="60.50" lengthAdjust="spacingAndGlyphs">P-selectin exposure</text>
<text class="n" x="117.60" y="162.50" style="font-size:7.57px" textLength="38.50" lengthAdjust="spacingAndGlyphs">GW3965 0 µM</text>
<text class="n" x="120.30" y="172.60" style="font-size:7.57px" textLength="11.60" lengthAdjust="spacingAndGlyphs">1µM</text>
<text class="n" x="108.90" y="185.50" style="font-size:7.57px" textLength="13.00" lengthAdjust="spacingAndGlyphs">5 µM</text>
<text class="n" x="100.20" y="203.90" style="font-size:7.57px" textLength="16.00" lengthAdjust="spacingAndGlyphs">10 µM</text>
<text class="n" x="80.00" y="223.70" style="font-size:7.57px" textLength="18.00" lengthAdjust="spacingAndGlyphs">Resting</text>
</svg>
</body></html>
